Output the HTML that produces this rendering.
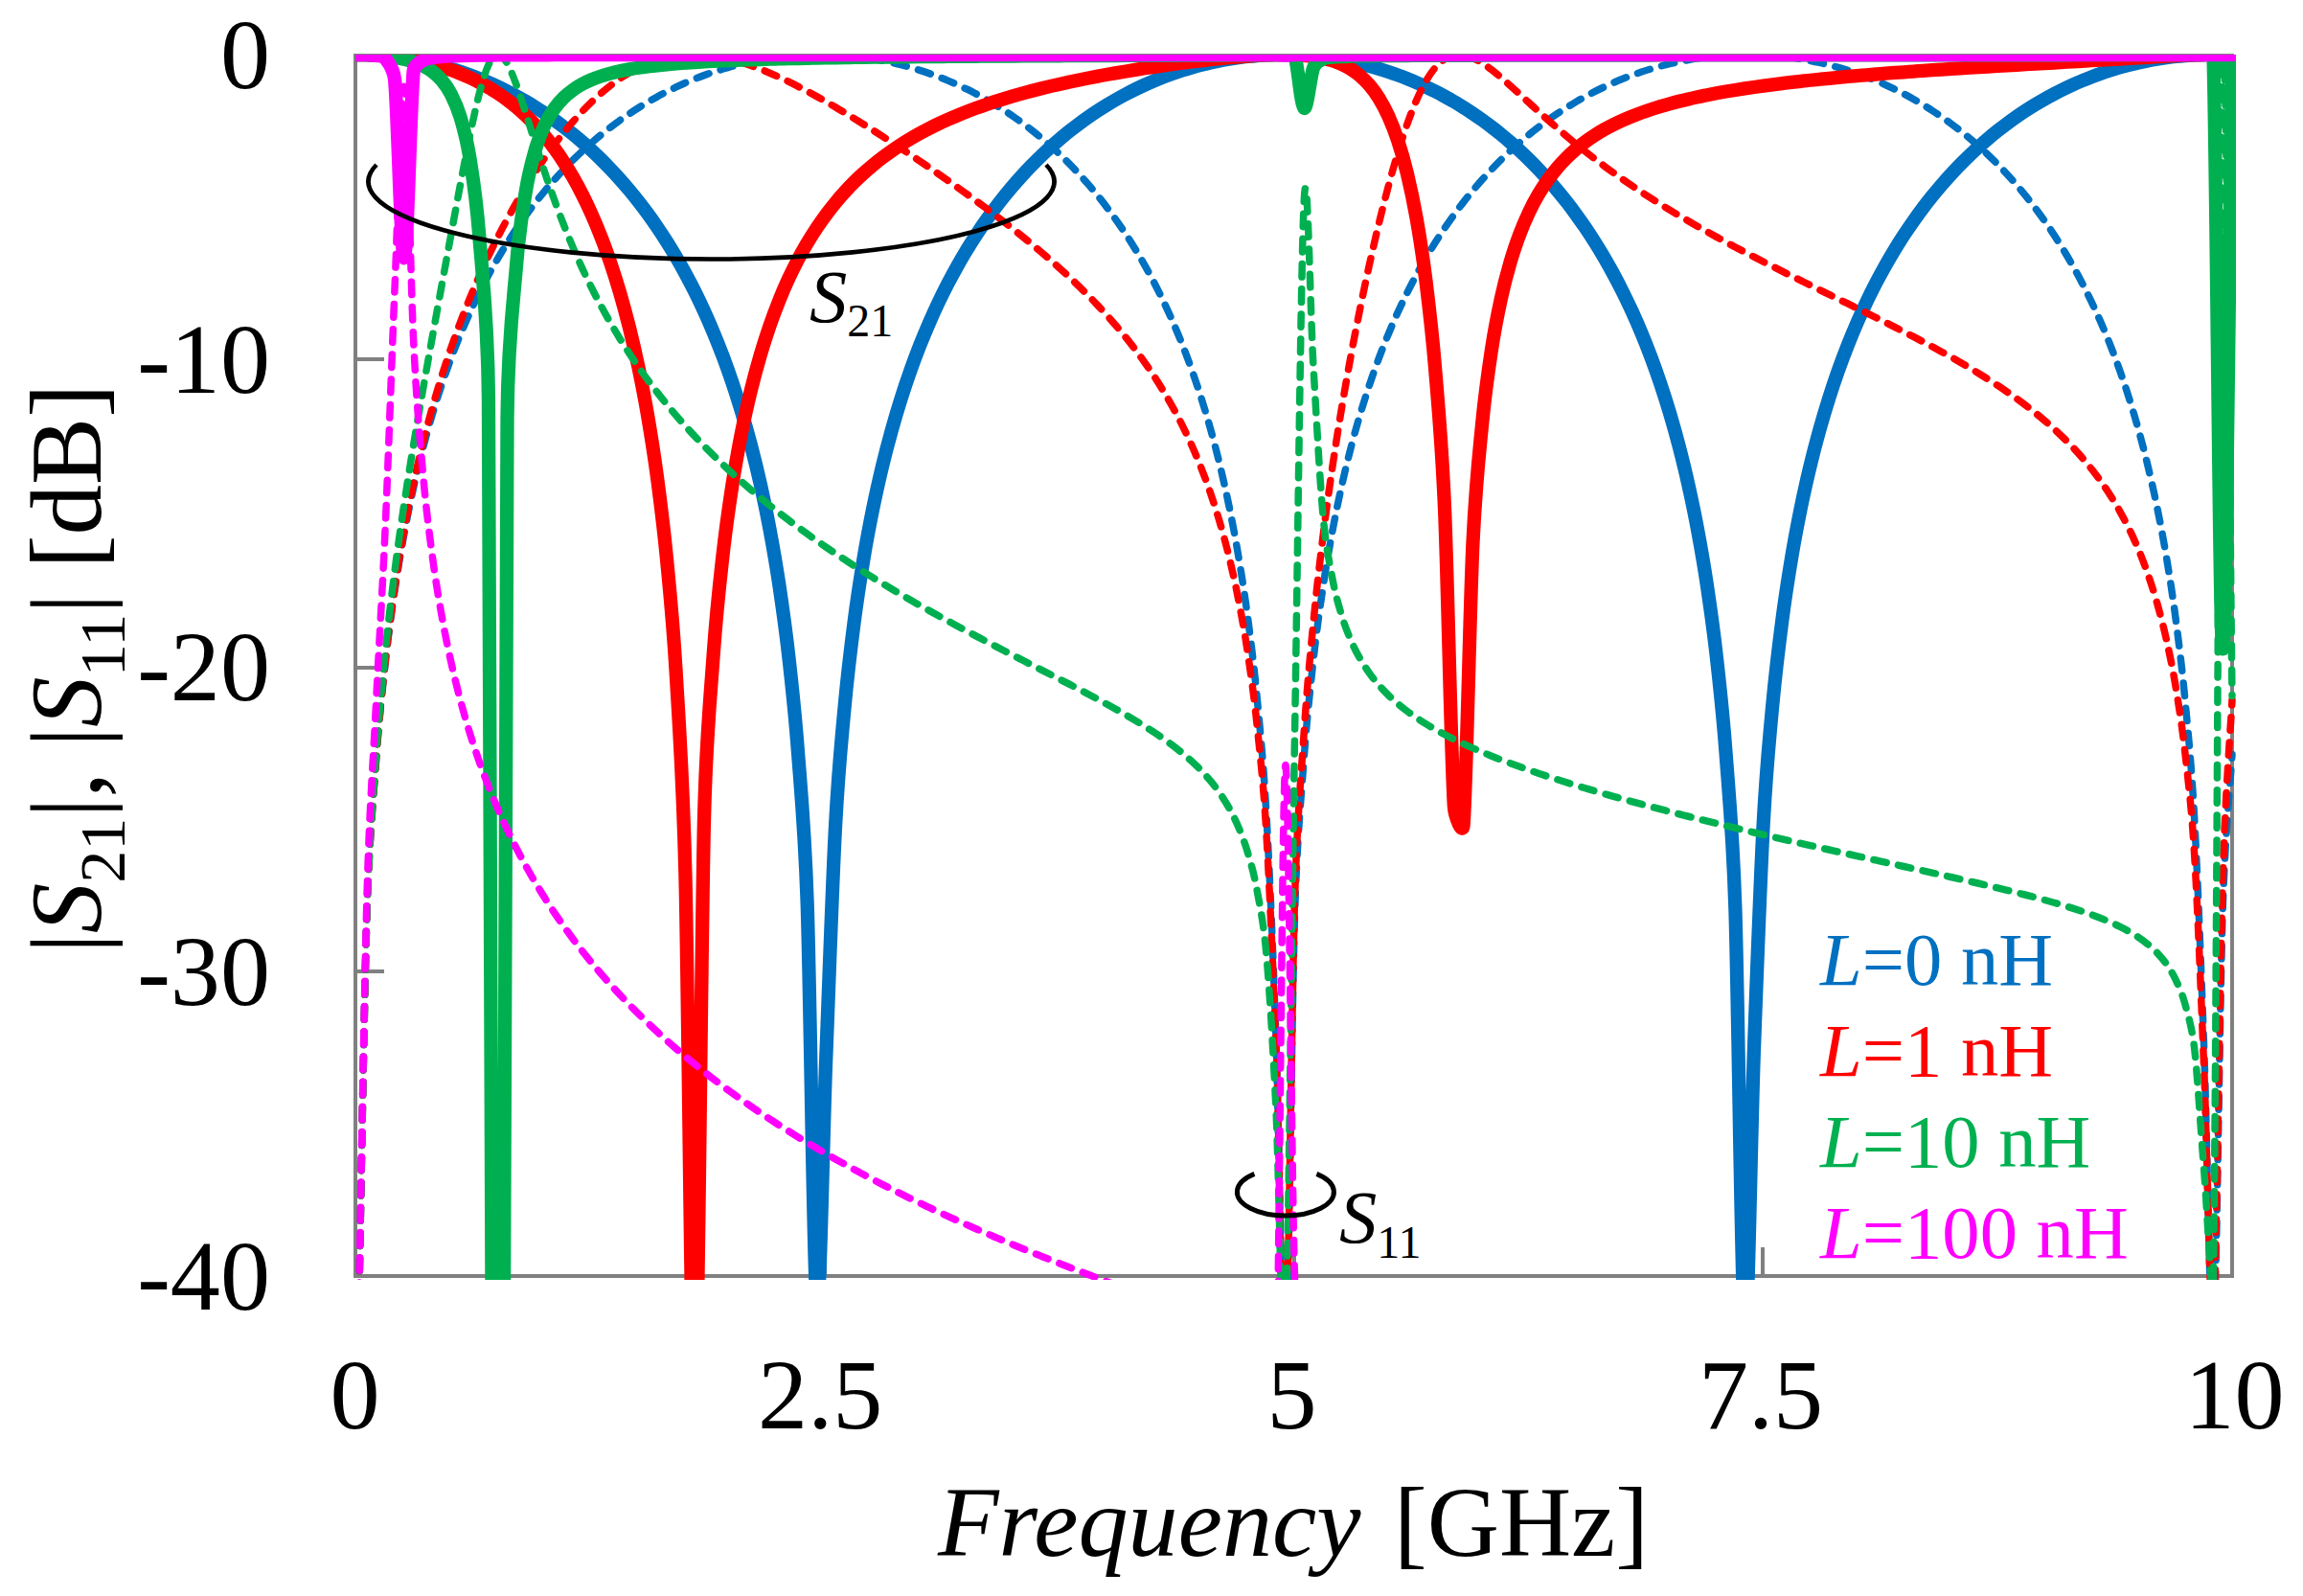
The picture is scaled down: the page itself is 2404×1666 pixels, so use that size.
<!DOCTYPE html>
<html><head><meta charset="utf-8"><title>S-parameters</title>
<style>
html,body{margin:0;padding:0;background:#fff}
svg{display:block}
text{font-family:"Liberation Serif",serif;fill:#000}
.i{font-style:italic}
</style></head><body>
<svg width="2404" height="1666" viewBox="0 0 2404 1666">
<rect width="2404" height="1666" fill="#fff"/>
<defs><clipPath id="c"><rect x="371" y="57" width="1963" height="1279"/></clipPath></defs>

<g fill="#808080" shape-rendering="crispEdges">
<rect x="369" y="56" width="4" height="1278"/>
<rect x="2328" y="56" width="4" height="1278"/>
<rect x="369" y="1330" width="1963" height="4"/>
<rect x="369" y="56" width="1963" height="1"/>
<rect x="373" y="373.4" width="28" height="4"/>
<rect x="373" y="694.8" width="28" height="4"/>
<rect x="373" y="1012.0" width="28" height="4"/>
<rect x="858.8" y="1302" width="4" height="28"/>
<rect x="1348.5" y="1302" width="4" height="28"/>
<rect x="1838.2" y="1302" width="4" height="28"/>
</g>
<g clip-path="url(#c)" fill="none" stroke-linejoin="round" stroke-linecap="round">
<path d="M372.96 57.01C374.59 57.04 379.48 57.09 382.74 57.20C386.01 57.31 389.27 57.47 392.53 57.68C395.79 57.88 399.05 58.13 402.31 58.43C405.58 58.73 408.84 59.07 412.10 59.47C415.36 59.86 418.62 60.30 421.89 60.79C425.15 61.28 428.41 61.81 431.67 62.40C434.93 62.98 438.19 63.61 441.46 64.29C444.72 64.98 447.98 65.71 451.24 66.49C454.50 67.27 457.76 68.10 461.03 68.98C464.29 69.86 467.55 70.79 470.81 71.77C474.07 72.76 477.33 73.79 480.60 74.88C483.86 75.97 487.12 77.11 490.38 78.30C493.64 79.50 496.90 80.74 500.17 82.05C503.43 83.35 506.69 84.71 509.95 86.13C513.21 87.55 516.48 89.02 519.74 90.56C523.00 92.09 526.26 93.69 529.52 95.34C532.78 97.00 536.05 98.71 539.31 100.49C542.57 102.27 545.83 104.12 549.09 106.03C552.35 107.94 555.62 109.91 558.88 111.96C562.14 114.00 565.40 116.11 568.66 118.30C571.92 120.49 575.19 122.75 578.45 125.08C581.71 127.42 584.97 129.83 588.23 132.32C591.50 134.81 594.76 137.38 598.02 140.04C601.28 142.69 604.54 145.43 607.80 148.26C611.07 151.09 614.33 154.01 617.59 157.03C620.85 160.05 624.11 163.15 627.37 166.37C630.64 169.58 633.90 172.89 637.16 176.32C640.42 179.75 643.68 183.28 646.94 186.94C650.21 190.60 653.47 194.37 656.73 198.27C659.99 202.18 663.25 206.20 666.52 210.38C669.78 214.55 673.04 218.86 676.30 223.33C679.56 227.80 682.82 232.41 686.09 237.21C689.35 242.01 692.61 246.95 695.87 252.11C699.13 257.27 702.39 262.60 705.66 268.17C708.92 273.73 712.18 279.48 715.44 285.50C718.70 291.52 721.96 297.75 725.23 304.29C728.49 310.84 731.75 317.61 735.01 324.76C738.27 331.90 741.54 339.31 744.80 347.15C748.06 355.00 751.32 363.15 754.58 371.83C757.84 380.51 761.11 389.54 764.37 399.23C767.63 408.91 770.89 419.02 774.15 429.95C777.41 440.88 780.68 452.31 783.94 464.83C787.20 477.35 790.46 490.46 793.72 505.07C796.98 519.68 800.25 534.99 803.51 552.50C806.77 570.00 810.03 588.30 813.29 610.10C816.55 631.91 819.82 654.40 823.08 683.30C826.34 712.20 829.60 740.28 832.86 783.49C836.13 826.70 839.94 862.92 842.65 942.56C845.91 1038.37 849.17 1331.20 852.43 1358.39C855.70 1385.57 858.96 1188.18 862.22 1105.66C865.48 1023.13 868.74 924.81 872.00 863.23C875.27 801.65 878.53 771.77 881.79 736.17C885.05 700.56 888.31 674.97 891.57 649.61C894.84 624.24 898.10 603.72 901.36 583.98C904.62 564.25 907.88 547.34 911.15 531.20C914.41 515.06 917.67 500.76 920.93 487.12C924.19 473.48 927.45 461.15 930.72 449.36C933.98 437.56 937.24 426.74 940.50 416.37C943.76 406.01 947.02 396.39 950.29 387.16C953.55 377.92 956.81 369.29 960.07 360.98C963.33 352.68 966.59 344.86 969.86 337.33C973.12 329.80 976.38 322.67 979.64 315.79C982.90 308.92 986.17 302.39 989.43 296.07C992.69 289.76 995.95 283.75 999.21 277.93C1002.47 272.11 1005.74 266.55 1009.00 261.16C1012.26 255.77 1015.52 250.61 1018.78 245.61C1022.04 240.61 1025.31 235.81 1028.57 231.16C1031.83 226.50 1035.09 222.03 1038.35 217.69C1041.61 213.34 1044.88 209.16 1048.14 205.11C1051.40 201.05 1054.66 197.14 1057.92 193.34C1061.19 189.54 1064.45 185.88 1067.71 182.32C1070.97 178.76 1074.23 175.33 1077.49 171.99C1080.76 168.66 1084.02 165.43 1087.28 162.30C1090.54 159.18 1093.80 156.15 1097.06 153.21C1100.33 150.28 1103.59 147.44 1106.85 144.68C1110.11 141.93 1113.37 139.26 1116.63 136.68C1119.90 134.09 1123.16 131.59 1126.42 129.17C1129.68 126.75 1132.94 124.40 1136.20 122.13C1139.47 119.86 1142.73 117.67 1145.99 115.54C1149.25 113.41 1152.51 111.36 1155.78 109.37C1159.04 107.39 1162.30 105.47 1165.56 103.61C1168.82 101.76 1172.08 99.97 1175.35 98.25C1178.61 96.52 1181.87 94.86 1185.13 93.25C1188.39 91.65 1191.65 90.11 1194.92 88.63C1198.18 87.14 1201.44 85.72 1204.70 84.35C1207.96 82.98 1211.22 81.67 1214.49 80.41C1217.75 79.15 1221.01 77.95 1224.27 76.80C1227.53 75.65 1230.80 74.56 1234.06 73.51C1237.32 72.47 1240.58 71.48 1243.84 70.54C1247.10 69.60 1250.37 68.71 1253.63 67.88C1256.89 67.04 1260.15 66.25 1263.41 65.51C1266.67 64.78 1269.94 64.09 1273.20 63.45C1276.46 62.81 1279.72 62.22 1282.98 61.67C1286.24 61.13 1289.51 60.64 1292.77 60.19C1296.03 59.74 1299.29 59.34 1302.55 58.99C1305.82 58.64 1309.08 58.33 1312.34 58.07C1315.60 57.82 1318.86 57.60 1322.12 57.44C1325.39 57.27 1328.65 57.16 1331.91 57.08C1335.17 57.01 1338.43 56.99 1341.69 57.01C1344.96 57.03 1348.22 57.10 1351.48 57.21C1354.74 57.32 1358.00 57.48 1361.26 57.69C1364.53 57.90 1367.79 58.15 1371.05 58.45C1374.31 58.76 1377.57 59.10 1380.84 59.50C1384.10 59.90 1387.36 60.34 1390.62 60.83C1393.88 61.32 1397.14 61.86 1400.41 62.44C1403.67 63.03 1406.93 63.67 1410.19 64.35C1413.45 65.03 1416.71 65.77 1419.98 66.55C1423.24 67.33 1426.50 68.16 1429.76 69.05C1433.02 69.93 1436.28 70.87 1439.55 71.85C1442.81 72.84 1446.07 73.87 1449.33 74.97C1452.59 76.06 1455.86 77.20 1459.12 78.40C1462.38 79.60 1465.64 80.85 1468.90 82.15C1472.16 83.46 1475.43 84.82 1478.69 86.25C1481.95 87.67 1485.21 89.14 1488.47 90.68C1491.73 92.22 1495.00 93.82 1498.26 95.48C1501.52 97.13 1504.78 98.85 1508.04 100.64C1511.30 102.42 1514.57 104.27 1517.83 106.18C1521.09 108.09 1524.35 110.07 1527.61 112.12C1530.87 114.17 1534.14 116.29 1537.40 118.48C1540.66 120.67 1543.92 122.93 1547.18 125.27C1550.45 127.61 1553.71 130.02 1556.97 132.52C1560.23 135.02 1563.49 137.59 1566.75 140.25C1570.02 142.91 1573.28 145.65 1576.54 148.49C1579.80 151.33 1583.06 154.25 1586.32 157.27C1589.59 160.29 1592.85 163.40 1596.11 166.63C1599.37 169.85 1602.63 173.16 1605.89 176.60C1609.16 180.03 1612.42 183.57 1615.68 187.23C1618.94 190.90 1622.20 194.67 1625.47 198.58C1628.73 202.50 1631.99 206.53 1635.25 210.71C1638.51 214.90 1641.77 219.21 1645.04 223.69C1648.30 228.17 1651.56 232.79 1654.82 237.59C1658.08 242.40 1661.34 247.36 1664.61 252.53C1667.87 257.70 1671.13 263.04 1674.39 268.61C1677.65 274.19 1680.91 279.95 1684.18 285.98C1687.44 292.02 1690.70 298.26 1693.96 304.82C1697.22 311.38 1700.49 318.17 1703.75 325.33C1707.01 332.49 1710.27 339.92 1713.53 347.78C1716.79 355.65 1720.06 363.82 1723.32 372.52C1726.58 381.23 1729.84 390.29 1733.10 400.00C1736.36 409.72 1739.63 419.86 1742.89 430.83C1746.15 441.80 1749.41 453.26 1752.67 465.83C1755.93 478.40 1759.20 491.56 1762.46 506.23C1765.72 520.91 1768.98 536.29 1772.24 553.89C1775.51 571.49 1778.77 589.88 1782.03 611.83C1785.29 633.77 1788.55 656.41 1791.81 685.56C1795.08 714.71 1798.34 742.95 1801.60 786.75C1804.86 830.55 1808.74 867.46 1811.38 948.38C1814.65 1048.18 1817.91 1361.06 1821.17 1385.57C1824.43 1410.09 1827.69 1183.23 1830.95 1095.46C1834.22 1007.69 1837.48 919.27 1840.74 858.94C1844.00 798.61 1847.26 768.67 1850.52 733.45C1853.79 698.24 1857.05 672.80 1860.31 647.63C1863.57 622.45 1866.83 602.04 1870.10 582.42C1873.36 562.81 1876.62 545.98 1879.88 529.92C1883.14 513.85 1886.40 499.62 1889.67 486.04C1892.93 472.45 1896.19 460.16 1899.45 448.41C1902.71 436.67 1905.97 425.88 1909.24 415.54C1912.50 405.21 1915.76 395.62 1919.02 386.42C1922.28 377.21 1925.54 368.60 1928.81 360.32C1932.07 352.04 1935.33 344.24 1938.59 336.73C1941.85 329.21 1945.12 322.10 1948.38 315.24C1951.64 308.38 1954.90 301.87 1958.16 295.57C1961.42 289.27 1964.69 283.27 1967.95 277.46C1971.21 271.65 1974.47 266.10 1977.73 260.73C1980.99 255.35 1984.26 250.20 1987.52 245.21C1990.78 240.22 1994.04 235.43 1997.30 230.79C2000.56 226.14 2003.83 221.67 2007.09 217.34C2010.35 213.00 2013.61 208.83 2016.87 204.78C2020.14 200.73 2023.40 196.83 2026.66 193.04C2029.92 189.24 2033.18 185.59 2036.44 182.04C2039.71 178.48 2042.97 175.06 2046.23 171.72C2049.49 168.39 2052.75 165.18 2056.01 162.05C2059.28 158.93 2062.54 155.91 2065.80 152.98C2069.06 150.05 2072.32 147.21 2075.58 144.46C2078.85 141.71 2082.11 139.05 2085.37 136.47C2088.63 133.89 2091.89 131.40 2095.16 128.98C2098.42 126.55 2101.68 124.22 2104.94 121.95C2108.20 119.68 2111.46 117.49 2114.73 115.37C2117.99 113.25 2121.25 111.20 2124.51 109.21C2127.77 107.23 2131.03 105.32 2134.30 103.47C2137.56 101.61 2140.82 99.83 2144.08 98.11C2147.34 96.38 2150.60 94.73 2153.87 93.13C2157.13 91.53 2160.39 89.99 2163.65 88.51C2166.91 87.02 2170.17 85.60 2173.44 84.24C2176.70 82.87 2179.96 81.56 2183.22 80.31C2186.48 79.05 2189.75 77.85 2193.01 76.71C2196.27 75.56 2199.53 74.47 2202.79 73.43C2206.05 72.39 2209.32 71.40 2212.58 70.47C2215.84 69.53 2219.10 68.64 2222.36 67.81C2225.62 66.97 2228.89 66.19 2232.15 65.45C2235.41 64.72 2238.67 64.03 2241.93 63.40C2245.19 62.76 2248.46 62.17 2251.72 61.63C2254.98 61.09 2258.24 60.60 2261.50 60.15C2264.77 59.71 2268.03 59.31 2271.29 58.96C2274.55 58.61 2277.81 58.31 2281.07 58.05C2284.34 57.80 2287.60 57.59 2290.86 57.43C2294.12 57.26 2297.38 57.15 2300.64 57.08C2303.91 57.01 2307.17 56.99 2310.43 57.01C2313.69 57.03 2316.95 57.10 2320.21 57.22C2323.48 57.34 2328.37 57.63 2330.00 57.71" stroke="#0070C0" stroke-width="14.3"/>
<path d="M372.96 1457.53C374.59 1374.90 379.48 1072.32 382.74 961.75C385.22 877.83 389.27 839.30 392.53 794.11C395.79 748.93 399.05 720.37 402.31 690.64C405.58 660.90 408.84 637.97 412.10 615.70C415.36 593.42 418.62 574.81 421.89 557.01C425.15 539.20 428.41 523.66 431.67 508.84C434.93 494.02 438.19 480.74 441.46 468.07C444.72 455.39 447.98 443.84 451.24 432.78C454.50 421.72 457.76 411.52 461.03 401.74C464.29 391.95 467.55 382.83 470.81 374.08C474.07 365.32 477.33 357.10 480.60 349.18C483.86 341.27 487.12 333.80 490.38 326.61C493.64 319.41 496.90 312.58 500.17 305.99C503.43 299.40 506.69 293.12 509.95 287.06C513.21 281.00 516.48 275.21 519.74 269.61C523.00 264.01 526.26 258.64 529.52 253.45C532.78 248.26 536.05 243.28 539.31 238.45C542.57 233.62 545.83 228.98 549.09 224.49C552.35 219.99 555.62 215.66 558.88 211.46C562.14 207.26 565.40 203.21 568.66 199.28C571.92 195.35 575.19 191.57 578.45 187.89C581.71 184.21 584.97 180.66 588.23 177.21C591.50 173.76 594.76 170.44 598.02 167.20C601.28 163.97 604.54 160.84 607.80 157.81C611.07 154.78 614.33 151.84 617.59 149.00C620.85 146.15 624.11 143.40 627.37 140.72C630.64 138.05 633.90 135.47 637.16 132.96C640.42 130.46 643.68 128.04 646.94 125.69C650.21 123.34 653.47 121.07 656.73 118.87C659.99 116.67 663.25 114.54 666.52 112.49C669.78 110.43 673.04 108.44 676.30 106.52C679.56 104.60 682.82 102.75 686.09 100.95C689.35 99.16 692.61 97.44 695.87 95.77C699.13 94.11 702.39 92.50 705.66 90.96C708.92 89.41 712.18 87.93 715.44 86.50C718.70 85.07 721.96 83.70 725.23 82.39C728.49 81.07 731.75 79.82 735.01 78.61C738.27 77.41 741.54 76.26 744.80 75.16C748.06 74.06 751.32 73.02 754.58 72.03C757.84 71.04 761.11 70.10 764.37 69.21C767.63 68.32 770.89 67.48 774.15 66.69C777.41 65.90 780.68 65.16 783.94 64.47C787.20 63.78 790.46 63.14 793.72 62.55C796.98 61.96 800.25 61.41 803.51 60.92C806.77 60.42 810.03 59.97 813.29 59.57C816.55 59.17 819.82 58.82 823.08 58.51C826.34 58.20 829.60 57.94 832.86 57.73C836.13 57.52 839.39 57.35 842.65 57.23C845.91 57.11 849.17 57.04 852.43 57.01C855.70 56.98 858.96 57.00 862.22 57.07C865.48 57.14 868.74 57.25 872.00 57.41C875.27 57.57 878.53 57.78 881.79 58.03C885.05 58.28 888.31 58.58 891.57 58.93C894.84 59.27 898.10 59.67 901.36 60.11C904.62 60.55 907.88 61.04 911.15 61.58C914.41 62.12 917.67 62.70 920.93 63.33C924.19 63.97 927.45 64.65 930.72 65.38C933.98 66.12 937.24 66.90 940.50 67.73C943.76 68.56 947.02 69.44 950.29 70.37C953.55 71.31 956.81 72.29 960.07 73.33C963.33 74.36 966.59 75.45 969.86 76.60C973.12 77.74 976.38 78.93 979.64 80.18C982.90 81.44 986.17 82.74 989.43 84.10C992.69 85.47 995.95 86.88 999.21 88.36C1002.47 89.84 1005.74 91.37 1009.00 92.97C1012.26 94.57 1015.52 96.22 1018.78 97.94C1022.04 99.66 1025.31 101.44 1028.57 103.28C1031.83 105.13 1035.09 107.04 1038.35 109.02C1041.61 111.00 1044.88 113.04 1048.14 115.16C1051.40 117.28 1054.66 119.46 1057.92 121.73C1061.19 123.99 1064.45 126.32 1067.71 128.74C1070.97 131.15 1074.23 133.64 1077.49 136.22C1080.76 138.79 1084.02 141.45 1087.28 144.19C1090.54 146.94 1093.80 149.77 1097.06 152.69C1100.33 155.62 1103.59 158.63 1106.85 161.75C1110.11 164.87 1113.37 168.08 1116.63 171.40C1119.90 174.72 1123.16 178.14 1126.42 181.69C1129.68 185.23 1132.94 188.88 1136.20 192.66C1139.47 196.45 1142.73 200.34 1145.99 204.38C1149.25 208.43 1152.51 212.59 1155.78 216.91C1159.04 221.24 1162.30 225.70 1165.56 230.33C1168.82 234.97 1172.08 239.75 1175.35 244.73C1178.61 249.70 1181.87 254.84 1185.13 260.20C1188.39 265.57 1191.65 271.10 1194.92 276.89C1198.18 282.69 1201.44 288.67 1204.70 294.95C1207.96 301.23 1211.22 307.73 1214.49 314.57C1217.75 321.41 1221.01 328.50 1224.27 335.99C1227.53 343.48 1230.80 351.26 1234.06 359.51C1237.32 367.77 1240.58 376.35 1243.84 385.52C1247.10 394.69 1250.37 404.25 1253.63 414.54C1256.89 424.83 1260.15 435.58 1263.41 447.27C1266.67 458.97 1269.94 471.21 1273.20 484.72C1276.46 498.24 1279.72 512.40 1282.98 528.37C1286.24 544.34 1289.51 561.06 1292.77 580.54C1296.03 600.02 1299.29 620.29 1302.55 645.23C1305.82 670.17 1309.08 695.42 1312.34 730.19C1315.60 764.95 1318.86 794.91 1322.12 853.80C1325.39 912.69 1328.65 988.69 1331.91 1083.52C1335.17 1178.34 1338.43 1444.07 1341.69 1422.76C1344.96 1401.45 1348.22 1060.98 1351.48 955.64C1354.04 873.10 1358.00 835.32 1361.26 790.77C1364.53 746.22 1367.79 717.81 1371.05 688.34C1374.31 658.86 1377.57 636.07 1380.84 613.95C1384.10 591.82 1387.36 573.31 1390.62 555.60C1393.88 537.88 1397.14 522.42 1400.41 507.66C1403.67 492.91 1406.93 479.68 1410.19 467.06C1413.45 454.43 1416.71 442.91 1419.98 431.90C1423.24 420.88 1426.50 410.71 1429.76 400.95C1433.02 391.20 1436.28 382.11 1439.55 373.38C1442.81 364.64 1446.07 356.44 1449.33 348.55C1452.59 340.66 1455.86 333.21 1459.12 326.03C1462.38 318.85 1465.64 312.04 1468.90 305.46C1472.16 298.88 1475.43 292.63 1478.69 286.58C1481.95 280.52 1485.21 274.75 1488.47 269.16C1491.73 263.57 1495.00 258.22 1498.26 253.03C1501.52 247.85 1504.78 242.88 1508.04 238.06C1511.30 233.25 1514.57 228.62 1517.83 224.13C1521.09 219.64 1524.35 215.31 1527.61 211.12C1530.87 206.93 1534.14 202.89 1537.40 198.97C1540.66 195.05 1543.92 191.27 1547.18 187.59C1550.45 183.92 1553.71 180.38 1556.97 176.94C1560.23 173.49 1563.49 170.17 1566.75 166.94C1570.02 163.71 1573.28 160.60 1576.54 157.57C1579.80 154.54 1583.06 151.61 1586.32 148.77C1589.59 145.92 1592.85 143.18 1596.11 140.51C1599.37 137.84 1602.63 135.27 1605.89 132.76C1609.16 130.26 1612.42 127.84 1615.68 125.50C1618.94 123.15 1622.20 120.89 1625.47 118.69C1628.73 116.50 1631.99 114.38 1635.25 112.32C1638.51 110.27 1641.77 108.29 1645.04 106.37C1648.30 104.45 1651.56 102.60 1654.82 100.81C1658.08 99.02 1661.34 97.30 1664.61 95.64C1667.87 93.97 1671.13 92.38 1674.39 90.83C1677.65 89.29 1680.91 87.81 1684.18 86.39C1687.44 84.96 1690.70 83.59 1693.96 82.28C1697.22 80.97 1700.49 79.72 1703.75 78.51C1707.01 77.31 1710.27 76.17 1713.53 75.07C1716.79 73.98 1720.06 72.94 1723.32 71.95C1726.58 70.96 1729.84 70.02 1733.10 69.13C1736.36 68.25 1739.63 67.41 1742.89 66.63C1746.15 65.84 1749.41 65.10 1752.67 64.42C1755.93 63.73 1759.20 63.09 1762.46 62.50C1765.72 61.91 1768.98 61.37 1772.24 60.88C1775.51 60.38 1778.77 59.94 1782.03 59.54C1785.29 59.14 1788.55 58.79 1791.81 58.48C1795.08 58.18 1798.34 57.92 1801.60 57.71C1804.86 57.50 1808.12 57.34 1811.38 57.22C1814.65 57.10 1817.91 57.03 1821.17 57.01C1824.43 56.99 1827.69 57.01 1830.95 57.08C1834.22 57.15 1837.48 57.26 1840.74 57.42C1844.00 57.58 1847.26 57.79 1850.52 58.05C1853.79 58.30 1857.05 58.61 1860.31 58.96C1863.57 59.31 1866.83 59.70 1870.10 60.15C1873.36 60.59 1876.62 61.08 1879.88 61.62C1883.14 62.16 1886.40 62.75 1889.67 63.39C1892.93 64.02 1896.19 64.71 1899.45 65.44C1902.71 66.18 1905.97 66.96 1909.24 67.79C1912.50 68.63 1915.76 69.51 1919.02 70.45C1922.28 71.39 1925.54 72.37 1928.81 73.41C1932.07 74.45 1935.33 75.54 1938.59 76.69C1941.85 77.83 1945.12 79.03 1948.38 80.28C1951.64 81.54 1954.90 82.85 1958.16 84.21C1961.42 85.58 1964.69 87.00 1967.95 88.48C1971.21 89.96 1974.47 91.50 1977.73 93.10C1980.99 94.70 1984.26 96.36 1987.52 98.08C1990.78 99.80 1994.04 101.58 1997.30 103.43C2000.56 105.28 2003.83 107.20 2007.09 109.18C2010.35 111.16 2013.61 113.21 2016.87 115.33C2020.14 117.45 2023.40 119.64 2026.66 121.91C2029.92 124.18 2033.18 126.51 2036.44 128.93C2039.71 131.35 2042.97 133.85 2046.23 136.43C2049.49 139.01 2052.75 141.66 2056.01 144.41C2059.28 147.16 2062.54 150.00 2065.80 152.93C2069.06 155.86 2072.32 158.88 2075.58 162.00C2078.85 165.12 2082.11 168.34 2085.37 171.67C2088.63 175.00 2091.89 178.42 2095.16 181.97C2098.42 185.52 2101.68 189.18 2104.94 192.97C2108.20 196.76 2111.46 200.66 2114.73 204.71C2117.99 208.76 2121.25 212.93 2124.51 217.26C2127.77 221.59 2131.03 226.06 2134.30 230.70C2137.56 235.35 2140.82 240.14 2144.08 245.13C2147.34 250.11 2150.60 255.26 2153.87 260.63C2157.13 266.01 2160.39 271.56 2163.65 277.36C2166.91 283.16 2170.17 289.17 2173.44 295.46C2176.70 301.75 2179.96 308.27 2183.22 315.12C2186.48 321.98 2189.75 329.09 2193.01 336.59C2196.27 344.10 2199.53 351.90 2202.79 360.17C2206.05 368.45 2209.32 377.06 2212.58 386.26C2215.84 395.46 2219.10 405.04 2222.36 415.36C2225.62 425.69 2228.89 436.47 2232.15 448.21C2235.41 459.95 2238.67 472.23 2241.93 485.80C2245.19 499.37 2248.46 513.59 2251.72 529.64C2254.98 545.69 2258.24 562.49 2261.50 582.09C2264.77 601.68 2268.03 622.07 2271.29 647.20C2274.55 672.33 2277.81 697.73 2281.07 732.87C2284.34 768.00 2287.60 797.94 2290.86 858.01C2294.12 918.08 2297.38 1004.30 2300.64 1093.28C2303.91 1182.26 2307.17 1415.81 2310.43 1391.88C2313.69 1367.94 2316.95 1050.40 2320.21 949.67C2322.84 868.46 2328.37 814.50 2330.00 787.47" stroke="#0070C0" stroke-width="7.5" stroke-dasharray="13.5 12.7"/>
<path d="M372.96 57.01C374.59 57.04 379.48 57.09 382.74 57.20C386.01 57.31 389.27 57.47 392.53 57.68C395.79 57.89 399.05 58.14 402.31 58.44C405.58 58.75 408.84 59.10 412.10 59.50C415.36 59.91 418.62 60.36 421.89 60.87C425.15 61.38 428.41 61.94 431.67 62.57C434.93 63.19 438.19 63.86 441.46 64.60C444.72 65.34 447.98 66.14 451.24 67.01C454.50 67.88 457.76 68.81 461.03 69.82C464.29 70.82 467.55 71.90 470.81 73.06C474.07 74.21 477.33 75.44 480.60 76.77C483.86 78.09 487.12 79.49 490.38 81.00C493.64 82.50 496.90 84.09 500.17 85.80C503.43 87.51 506.69 89.31 509.95 91.24C513.21 93.17 516.48 95.20 519.74 97.38C523.00 99.56 526.26 101.85 529.52 104.31C532.78 106.77 536.05 109.35 539.31 112.12C542.57 114.89 545.83 117.80 549.09 120.92C552.35 124.04 555.62 127.32 558.88 130.83C562.14 134.34 565.40 138.04 568.66 142.00C571.92 145.96 575.19 150.12 578.45 154.58C581.71 159.04 584.97 163.74 588.23 168.78C591.50 173.82 594.76 179.12 598.02 184.82C601.28 190.52 604.54 196.51 607.80 202.98C611.07 209.44 614.33 216.24 617.59 223.58C620.85 230.93 624.11 238.67 627.37 247.06C630.64 255.45 633.90 264.30 637.16 273.94C640.42 283.59 643.68 293.76 646.94 304.94C650.21 316.12 653.47 327.92 656.73 341.04C659.99 354.16 663.25 367.99 666.52 383.66C669.78 399.33 673.04 415.83 676.30 435.03C679.56 454.24 682.82 474.34 686.09 498.89C689.35 523.45 692.61 548.53 695.87 582.37C699.13 616.21 702.39 646.70 705.66 701.92C708.92 757.14 712.77 807.72 715.44 913.68C718.70 1043.10 721.96 1488.18 725.23 1478.43C728.49 1468.68 731.75 987.95 735.01 855.19C737.14 768.42 741.54 727.91 744.80 681.86C748.06 635.82 751.32 608.17 754.58 578.94C757.84 549.71 761.11 527.78 764.37 506.49C767.63 485.21 770.89 467.81 774.15 451.24C777.41 434.67 780.68 420.51 783.94 407.08C787.20 393.65 790.46 381.86 793.72 370.68C796.98 359.51 800.25 349.51 803.51 340.03C806.77 330.55 810.03 321.96 813.29 313.81C816.55 305.65 819.82 298.18 823.08 291.08C826.34 283.98 829.60 277.44 832.86 271.20C836.13 264.96 839.39 259.18 842.65 253.66C845.91 248.14 849.17 243.00 852.43 238.08C855.70 233.17 858.96 228.57 862.22 224.17C865.48 219.76 868.74 215.63 872.00 211.67C875.27 207.70 878.53 203.97 881.79 200.39C885.05 196.81 888.31 193.42 891.57 190.17C894.84 186.92 898.10 183.84 901.36 180.88C904.62 177.92 907.88 175.11 911.15 172.40C914.41 169.70 917.67 167.12 920.93 164.64C924.19 162.16 927.45 159.80 930.72 157.52C933.98 155.24 937.24 153.06 940.50 150.96C943.76 148.85 947.02 146.84 950.29 144.90C953.55 142.95 956.81 141.09 960.07 139.29C963.33 137.49 966.59 135.76 969.86 134.09C973.12 132.42 976.38 130.81 979.64 129.25C982.90 127.69 986.17 126.20 989.43 124.74C992.69 123.29 995.95 121.89 999.21 120.53C1002.47 119.17 1005.74 117.86 1009.00 116.59C1012.26 115.31 1015.52 114.09 1018.78 112.89C1022.04 111.70 1025.31 110.54 1028.57 109.42C1031.83 108.29 1035.09 107.20 1038.35 106.15C1041.61 105.09 1044.88 104.06 1048.14 103.06C1051.40 102.06 1054.66 101.09 1057.92 100.14C1061.19 99.20 1064.45 98.28 1067.71 97.39C1070.97 96.49 1074.23 95.62 1077.49 94.77C1080.76 93.92 1084.02 93.09 1087.28 92.28C1090.54 91.48 1093.80 90.69 1097.06 89.92C1100.33 89.15 1103.59 88.40 1106.85 87.67C1110.11 86.94 1113.37 86.22 1116.63 85.52C1119.90 84.82 1123.16 84.14 1126.42 83.47C1129.68 82.80 1132.94 82.15 1136.20 81.51C1139.47 80.87 1142.73 80.24 1145.99 79.63C1149.25 79.01 1152.51 78.41 1155.78 77.82C1159.04 77.23 1162.30 76.66 1165.56 76.09C1168.82 75.53 1172.08 74.97 1175.35 74.43C1178.61 73.89 1181.87 73.35 1185.13 72.83C1188.39 72.31 1191.65 71.80 1194.92 71.30C1198.18 70.79 1201.44 70.30 1204.70 69.82C1207.96 69.34 1211.22 68.86 1214.49 68.40C1217.75 67.94 1221.01 67.48 1224.27 67.04C1227.53 66.59 1230.80 66.16 1234.06 65.73C1237.32 65.31 1240.58 64.89 1243.84 64.49C1247.10 64.08 1250.37 63.69 1253.63 63.30C1256.89 62.92 1260.15 62.55 1263.41 62.18C1266.67 61.82 1269.94 61.47 1273.20 61.14C1276.46 60.80 1279.72 60.48 1282.98 60.17C1286.24 59.86 1289.51 59.57 1292.77 59.29C1296.03 59.02 1299.29 58.76 1302.55 58.52C1305.82 58.28 1309.08 58.06 1312.34 57.87C1315.60 57.68 1318.86 57.51 1322.12 57.38C1325.39 57.25 1328.65 57.14 1331.91 57.08C1335.17 57.01 1338.43 56.98 1341.69 57.01C1344.96 57.03 1348.22 57.10 1351.48 57.24C1354.74 57.37 1358.00 57.56 1361.26 57.84C1364.53 58.13 1367.79 58.47 1371.05 58.94C1374.31 59.41 1377.57 59.95 1380.84 60.67C1384.10 61.39 1387.36 62.20 1390.62 63.25C1393.88 64.29 1397.14 65.46 1400.41 66.93C1403.67 68.41 1406.93 70.05 1410.19 72.11C1413.45 74.17 1416.71 76.44 1419.98 79.29C1423.24 82.13 1426.50 85.27 1429.76 89.18C1433.02 93.08 1436.28 97.38 1439.55 102.73C1442.81 108.08 1446.07 113.97 1449.33 121.28C1452.59 128.59 1455.86 136.62 1459.12 146.59C1462.38 156.56 1465.64 167.50 1468.90 181.11C1472.16 194.73 1475.43 209.56 1478.69 228.28C1481.95 247.01 1485.21 267.09 1488.47 293.45C1491.73 319.81 1495.00 346.73 1498.26 386.44C1501.52 426.15 1504.91 458.97 1508.04 531.70C1511.30 607.51 1514.57 786.35 1517.83 841.31C1518.49 852.47 1526.81 872.58 1527.61 861.43C1530.87 815.92 1534.14 638.20 1537.40 568.26C1540.35 504.92 1543.92 475.70 1547.18 441.81C1550.45 407.93 1553.71 386.55 1556.97 364.96C1560.23 343.37 1563.49 327.47 1566.75 312.27C1570.02 297.07 1573.28 285.07 1576.54 273.77C1579.80 262.46 1583.06 253.16 1586.32 244.44C1589.59 235.72 1592.85 228.35 1596.11 221.43C1599.37 214.52 1602.63 208.56 1605.89 202.96C1609.16 197.37 1612.42 192.47 1615.68 187.86C1618.94 183.25 1622.20 179.16 1625.47 175.31C1628.73 171.45 1631.99 168.00 1635.25 164.74C1638.51 161.47 1641.77 158.52 1645.04 155.73C1648.30 152.94 1651.56 150.39 1654.82 147.98C1658.08 145.56 1661.34 143.34 1664.61 141.24C1667.87 139.13 1671.13 137.18 1674.39 135.33C1677.65 133.48 1680.91 131.76 1684.18 130.12C1687.44 128.47 1690.70 126.94 1693.96 125.48C1697.22 124.02 1700.49 122.65 1703.75 121.33C1707.01 120.02 1710.27 118.79 1713.53 117.60C1716.79 116.42 1720.06 115.30 1723.32 114.23C1726.58 113.15 1729.84 112.14 1733.10 111.16C1736.36 110.18 1739.63 109.25 1742.89 108.36C1746.15 107.47 1749.41 106.61 1752.67 105.79C1755.93 104.97 1759.20 104.19 1762.46 103.43C1765.72 102.67 1768.98 101.95 1772.24 101.25C1775.51 100.54 1778.77 99.87 1782.03 99.22C1785.29 98.57 1788.55 97.94 1791.81 97.34C1795.08 96.73 1798.34 96.15 1801.60 95.58C1804.86 95.02 1808.12 94.47 1811.38 93.94C1814.65 93.41 1817.91 92.90 1821.17 92.40C1824.43 91.90 1827.69 91.42 1830.95 90.95C1834.22 90.48 1837.48 90.02 1840.74 89.58C1844.00 89.14 1847.26 88.71 1850.52 88.29C1853.79 87.87 1857.05 87.46 1860.31 87.07C1863.57 86.67 1866.83 86.28 1870.10 85.91C1873.36 85.53 1876.62 85.16 1879.88 84.80C1883.14 84.44 1886.40 84.09 1889.67 83.75C1892.93 83.40 1896.19 83.07 1899.45 82.74C1902.71 82.41 1905.97 82.09 1909.24 81.78C1912.50 81.47 1915.76 81.16 1919.02 80.86C1922.28 80.56 1925.54 80.26 1928.81 79.97C1932.07 79.68 1935.33 79.40 1938.59 79.12C1941.85 78.84 1945.12 78.57 1948.38 78.30C1951.64 78.03 1954.90 77.76 1958.16 77.50C1961.42 77.24 1964.69 76.99 1967.95 76.74C1971.21 76.49 1974.47 76.24 1977.73 75.99C1980.99 75.75 1984.26 75.51 1987.52 75.27C1990.78 75.04 1994.04 74.80 1997.30 74.57C2000.56 74.34 2003.83 74.11 2007.09 73.89C2010.35 73.66 2013.61 73.44 2016.87 73.22C2020.14 73.00 2023.40 72.79 2026.66 72.57C2029.92 72.36 2033.18 72.15 2036.44 71.93C2039.71 71.72 2042.97 71.52 2046.23 71.31C2049.49 71.10 2052.75 70.90 2056.01 70.70C2059.28 70.49 2062.54 70.29 2065.80 70.09C2069.06 69.89 2072.32 69.70 2075.58 69.50C2078.85 69.30 2082.11 69.11 2085.37 68.91C2088.63 68.72 2091.89 68.52 2095.16 68.33C2098.42 68.14 2101.68 67.95 2104.94 67.76C2108.20 67.57 2111.46 67.37 2114.73 67.18C2117.99 67.00 2121.25 66.81 2124.51 66.62C2127.77 66.43 2131.03 66.24 2134.30 66.05C2137.56 65.86 2140.82 65.67 2144.08 65.49C2147.34 65.30 2150.60 65.11 2153.87 64.92C2157.13 64.73 2160.39 64.55 2163.65 64.36C2166.91 64.17 2170.17 63.98 2173.44 63.79C2176.70 63.60 2179.96 63.41 2183.22 63.22C2186.48 63.04 2189.75 62.85 2193.01 62.65C2196.27 62.46 2199.53 62.27 2202.79 62.08C2206.05 61.89 2209.32 61.70 2212.58 61.51C2215.84 61.32 2219.10 61.13 2222.36 60.93C2225.62 60.74 2228.89 60.55 2232.15 60.36C2235.41 60.17 2238.67 59.98 2241.93 59.79C2245.19 59.60 2248.46 59.41 2251.72 59.23C2254.98 59.05 2258.24 58.86 2261.50 58.69C2264.77 58.51 2268.03 58.34 2271.29 58.17C2274.55 58.01 2277.81 57.85 2281.07 57.71C2284.34 57.57 2287.60 57.43 2290.86 57.32C2294.12 57.22 2297.38 57.12 2300.64 57.07C2303.91 57.01 2307.17 56.98 2310.43 57.01C2313.69 57.05 2316.95 57.10 2320.21 57.28C2323.48 57.45 2328.37 57.94 2330.00 58.07" stroke="#FF0000" stroke-width="14.3"/>
<path d="M372.96 1457.50C374.59 1374.85 379.48 1072.23 382.74 961.57C385.22 877.46 389.27 838.91 392.53 793.56C395.79 748.22 399.05 719.46 402.31 689.49C405.58 659.52 408.84 636.32 412.10 613.75C415.36 591.17 418.62 572.22 421.89 554.04C425.15 535.86 428.41 519.92 431.67 504.66C434.93 489.40 438.19 475.65 441.46 462.47C444.72 449.29 447.98 437.20 451.24 425.59C454.50 413.97 457.76 403.17 461.03 392.77C464.29 382.37 467.55 372.60 470.81 363.18C474.07 353.75 477.33 344.83 480.60 336.21C483.86 327.58 487.12 319.37 490.38 311.42C493.64 303.47 496.90 295.86 500.17 288.49C503.43 281.11 506.69 274.03 509.95 267.16C513.21 260.29 516.48 253.68 519.74 247.25C523.00 240.82 526.26 234.63 529.52 228.61C532.78 222.58 536.05 216.77 539.31 211.12C542.57 205.47 545.83 200.00 549.09 194.70C552.35 189.40 555.62 184.27 558.88 179.29C562.14 174.32 565.40 169.51 568.66 164.85C571.92 160.19 575.19 155.69 578.45 151.34C581.71 146.99 584.97 142.80 588.23 138.75C591.50 134.71 594.76 130.81 598.02 127.07C601.28 123.32 604.54 119.73 607.80 116.29C611.07 112.84 614.33 109.55 617.59 106.41C620.85 103.27 624.11 100.28 627.37 97.45C630.64 94.61 633.90 91.92 637.16 89.39C640.42 86.86 643.68 84.48 646.94 82.26C650.21 80.03 653.47 77.96 656.73 76.04C659.99 74.12 663.25 72.35 666.52 70.73C669.78 69.11 673.04 67.65 676.30 66.33C679.56 65.01 682.82 63.84 686.09 62.81C689.35 61.78 692.61 60.90 695.87 60.15C699.13 59.40 702.39 58.80 705.66 58.32C708.92 57.84 712.18 57.50 715.44 57.28C718.70 57.07 721.96 56.98 725.23 57.00C728.49 57.03 731.75 57.18 735.01 57.43C738.27 57.69 741.54 58.06 744.80 58.52C748.06 58.99 751.32 59.57 754.58 60.23C757.84 60.89 761.11 61.65 764.37 62.49C767.63 63.33 770.89 64.26 774.15 65.27C777.41 66.27 780.68 67.36 783.94 68.50C787.20 69.65 790.46 70.88 793.72 72.16C796.98 73.44 800.25 74.79 803.51 76.19C806.77 77.59 810.03 79.05 813.29 80.55C816.55 82.05 819.82 83.61 823.08 85.21C826.34 86.80 829.60 88.45 832.86 90.12C836.13 91.80 839.39 93.52 842.65 95.27C845.91 97.02 849.17 98.81 852.43 100.63C855.70 102.44 858.96 104.29 862.22 106.16C865.48 108.03 868.74 109.93 872.00 111.85C875.27 113.78 878.53 115.72 881.79 117.69C885.05 119.65 888.31 121.64 891.57 123.65C894.84 125.66 898.10 127.68 901.36 129.72C904.62 131.77 907.88 133.83 911.15 135.90C914.41 137.98 917.67 140.07 920.93 142.17C924.19 144.28 927.45 146.40 930.72 148.53C933.98 150.67 937.24 152.82 940.50 154.98C943.76 157.14 947.02 159.32 950.29 161.51C953.55 163.69 956.81 165.90 960.07 168.11C963.33 170.33 966.59 172.56 969.86 174.80C973.12 177.04 976.38 179.30 979.64 181.57C982.90 183.84 986.17 186.12 989.43 188.43C992.69 190.73 995.95 193.04 999.21 195.37C1002.47 197.70 1005.74 200.05 1009.00 202.41C1012.26 204.78 1015.52 207.16 1018.78 209.56C1022.04 211.96 1025.31 214.38 1028.57 216.82C1031.83 219.26 1035.09 221.72 1038.35 224.21C1041.61 226.69 1044.88 229.19 1048.14 231.73C1051.40 234.26 1054.66 236.81 1057.92 239.40C1061.19 241.98 1064.45 244.59 1067.71 247.24C1070.97 249.88 1074.23 252.55 1077.49 255.26C1080.76 257.97 1084.02 260.71 1087.28 263.49C1090.54 266.28 1093.80 269.09 1097.06 271.96C1100.33 274.82 1103.59 277.72 1106.85 280.68C1110.11 283.64 1113.37 286.64 1116.63 289.70C1119.90 292.76 1123.16 295.86 1126.42 299.04C1129.68 302.22 1132.94 305.45 1136.20 308.76C1139.47 312.07 1142.73 315.44 1145.99 318.90C1149.25 322.36 1152.51 325.88 1155.78 329.52C1159.04 333.15 1162.30 336.86 1165.56 340.68C1168.82 344.51 1172.08 348.43 1175.35 352.48C1178.61 356.54 1181.87 360.69 1185.13 365.01C1188.39 369.33 1191.65 373.76 1194.92 378.39C1198.18 383.01 1201.44 387.77 1204.70 392.75C1207.96 397.74 1211.22 402.88 1214.49 408.29C1217.75 413.70 1221.01 419.30 1224.27 425.23C1227.53 431.15 1230.80 437.30 1234.06 443.85C1237.32 450.40 1240.58 457.21 1243.84 464.53C1247.10 471.85 1250.37 479.49 1253.63 487.78C1256.89 496.07 1260.15 504.74 1263.41 514.28C1266.67 523.82 1269.94 533.82 1273.20 545.02C1276.46 556.22 1279.72 567.98 1282.98 581.46C1286.24 594.95 1289.51 609.10 1292.77 625.93C1296.03 642.75 1299.29 660.28 1302.55 682.40C1305.82 704.52 1309.08 726.85 1312.34 758.64C1315.60 790.43 1318.86 817.24 1322.12 873.16C1325.39 929.09 1328.65 1004.43 1331.91 1094.19C1335.17 1183.96 1338.43 1437.44 1341.69 1411.75C1344.96 1386.06 1348.22 1048.06 1351.48 940.07C1354.14 851.86 1358.00 812.36 1361.26 763.84C1364.53 715.32 1367.79 682.70 1371.05 648.94C1374.31 615.19 1377.57 587.96 1380.84 561.31C1384.10 534.66 1387.36 511.50 1390.62 489.05C1393.88 466.61 1397.14 446.29 1400.41 426.64C1403.67 406.98 1406.93 388.76 1410.19 371.12C1413.45 353.48 1416.71 336.87 1419.98 320.81C1423.24 304.75 1426.50 289.48 1429.76 274.77C1433.02 260.06 1436.28 246.00 1439.55 232.55C1442.81 219.11 1446.07 206.25 1449.33 194.10C1452.59 181.94 1455.86 170.38 1459.12 159.62C1462.38 148.87 1465.64 138.76 1468.90 129.57C1472.16 120.37 1475.43 111.92 1478.69 104.44C1481.95 96.96 1485.21 90.34 1488.47 84.68C1491.73 79.01 1495.00 74.30 1498.26 70.45C1501.52 66.59 1504.78 63.72 1508.04 61.56C1511.30 59.40 1514.57 58.17 1517.83 57.48C1521.09 56.79 1524.35 56.91 1527.61 57.42C1530.87 57.92 1534.14 59.08 1537.40 60.49C1540.66 61.90 1543.92 63.81 1547.18 65.87C1550.45 67.93 1553.71 70.34 1556.97 72.84C1560.23 75.33 1563.49 78.07 1566.75 80.84C1570.02 83.60 1573.28 86.52 1576.54 89.44C1579.80 92.36 1583.06 95.36 1586.32 98.35C1589.59 101.33 1592.85 104.35 1596.11 107.34C1599.37 110.33 1602.63 113.33 1605.89 116.29C1609.16 119.25 1612.42 122.20 1615.68 125.10C1618.94 128.01 1622.20 130.88 1625.47 133.71C1628.73 136.55 1631.99 139.34 1635.25 142.10C1638.51 144.85 1641.77 147.56 1645.04 150.23C1648.30 152.90 1651.56 155.53 1654.82 158.12C1658.08 160.70 1661.34 163.25 1664.61 165.75C1667.87 168.26 1671.13 170.72 1674.39 173.15C1677.65 175.58 1680.91 177.96 1684.18 180.32C1687.44 182.67 1690.70 184.98 1693.96 187.26C1697.22 189.54 1700.49 191.79 1703.75 194.00C1707.01 196.22 1710.27 198.40 1713.53 200.55C1716.79 202.70 1720.06 204.82 1723.32 206.91C1726.58 209.00 1729.84 211.07 1733.10 213.11C1736.36 215.14 1739.63 217.15 1742.89 219.14C1746.15 221.13 1749.41 223.09 1752.67 225.04C1755.93 226.98 1759.20 228.90 1762.46 230.80C1765.72 232.70 1768.98 234.57 1772.24 236.43C1775.51 238.29 1778.77 240.13 1782.03 241.96C1785.29 243.78 1788.55 245.59 1791.81 247.38C1795.08 249.17 1798.34 250.94 1801.60 252.70C1804.86 254.46 1808.12 256.21 1811.38 257.94C1814.65 259.68 1817.91 261.39 1821.17 263.10C1824.43 264.81 1827.69 266.51 1830.95 268.20C1834.22 269.89 1837.48 271.56 1840.74 273.23C1844.00 274.90 1847.26 276.56 1850.52 278.21C1853.79 279.86 1857.05 281.50 1860.31 283.14C1863.57 284.78 1866.83 286.41 1870.10 288.03C1873.36 289.66 1876.62 291.28 1879.88 292.89C1883.14 294.51 1886.40 296.12 1889.67 297.73C1892.93 299.34 1896.19 300.94 1899.45 302.55C1902.71 304.15 1905.97 305.75 1909.24 307.36C1912.50 308.96 1915.76 310.56 1919.02 312.16C1922.28 313.76 1925.54 315.36 1928.81 316.97C1932.07 318.57 1935.33 320.18 1938.59 321.79C1941.85 323.40 1945.12 325.01 1948.38 326.63C1951.64 328.25 1954.90 329.87 1958.16 331.50C1961.42 333.12 1964.69 334.76 1967.95 336.40C1971.21 338.04 1974.47 339.69 1977.73 341.35C1980.99 343.01 1984.26 344.68 1987.52 346.36C1990.78 348.04 1994.04 349.73 1997.30 351.43C2000.56 353.14 2003.83 354.85 2007.09 356.58C2010.35 358.32 2013.61 360.06 2016.87 361.83C2020.14 363.59 2023.40 365.37 2026.66 367.17C2029.92 368.98 2033.18 370.80 2036.44 372.64C2039.71 374.49 2042.97 376.35 2046.23 378.25C2049.49 380.14 2052.75 382.06 2056.01 384.01C2059.28 385.96 2062.54 387.93 2065.80 389.95C2069.06 391.96 2072.32 394.00 2075.58 396.09C2078.85 398.17 2082.11 400.29 2085.37 402.46C2088.63 404.63 2091.89 406.83 2095.16 409.09C2098.42 411.35 2101.68 413.65 2104.94 416.02C2108.20 418.39 2111.46 420.80 2114.73 423.29C2117.99 425.78 2121.25 428.33 2124.51 430.95C2127.77 433.58 2131.03 436.28 2134.30 439.07C2137.56 441.86 2140.82 444.72 2144.08 447.70C2147.34 450.68 2150.60 453.75 2153.87 456.95C2157.13 460.15 2160.39 463.44 2163.65 466.90C2166.91 470.36 2170.17 473.93 2173.44 477.70C2176.70 481.46 2179.96 485.36 2183.22 489.50C2186.48 493.63 2189.75 497.92 2193.01 502.50C2196.27 507.08 2199.53 511.85 2202.79 516.98C2206.05 522.11 2209.32 527.47 2212.58 533.28C2215.84 539.10 2219.10 545.19 2222.36 551.88C2225.62 558.57 2228.89 565.59 2232.15 573.42C2235.41 581.25 2238.67 589.49 2241.93 598.86C2245.19 608.23 2248.46 618.10 2251.72 629.63C2254.98 641.15 2258.24 653.28 2261.50 668.00C2264.77 682.73 2268.03 698.08 2271.29 717.98C2274.55 737.88 2277.81 757.85 2281.07 787.40C2284.34 816.96 2287.62 841.24 2290.86 895.33C2294.12 949.76 2297.38 1034.70 2300.64 1113.99C2303.91 1193.28 2307.17 1403.85 2310.43 1371.06C2313.69 1338.27 2316.95 1023.96 2320.21 917.24C2323.07 823.90 2328.37 761.81 2330.00 730.72" stroke="#FF0000" stroke-width="7.5" stroke-dasharray="13.5 12.7"/>
<path d="M372.96 57.01C374.59 57.04 379.48 57.09 382.74 57.20C386.01 57.32 389.27 57.48 392.53 57.70C395.79 57.93 399.05 58.20 402.31 58.55C405.58 58.91 408.84 59.32 412.10 59.85C415.36 60.39 418.62 60.98 421.89 61.75C425.15 62.53 428.41 63.38 431.67 64.50C434.93 65.63 438.19 66.85 441.46 68.52C444.72 70.18 447.98 71.97 451.24 74.49C454.50 77.00 457.76 79.68 461.03 83.63C464.29 87.57 467.55 91.70 470.81 98.16C474.07 104.62 477.33 111.24 480.60 122.37C483.86 133.49 487.12 144.48 490.38 164.93C493.64 185.38 497.04 204.82 500.17 245.06C503.43 287.01 509.28 330.71 509.95 416.62C513.21 836.84 516.48 2763.23 519.74 2766.38C523.00 2769.52 526.26 850.87 529.52 435.47C530.16 354.58 536.05 313.52 539.31 273.98C542.45 235.92 545.83 217.88 549.09 198.23C552.35 178.58 555.62 167.39 558.88 156.08C562.14 144.77 565.40 137.45 568.66 130.37C571.92 123.29 575.19 118.32 578.45 113.62C581.71 108.91 584.97 105.41 588.23 102.12C591.50 98.83 594.76 96.28 598.02 93.90C601.28 91.51 604.54 89.60 607.80 87.81C611.07 86.02 614.33 84.55 617.59 83.17C620.85 81.79 624.11 80.63 627.37 79.55C630.64 78.46 633.90 77.53 637.16 76.66C640.42 75.79 643.68 75.04 646.94 74.33C650.21 73.62 653.47 72.99 656.73 72.40C659.99 71.81 663.25 71.29 666.52 70.80C669.78 70.30 673.04 69.86 676.30 69.44C679.56 69.02 682.82 68.64 686.09 68.29C689.35 67.93 692.61 67.60 695.87 67.29C699.13 66.98 702.39 66.70 705.66 66.43C708.92 66.16 712.18 65.91 715.44 65.68C718.70 65.44 721.96 65.22 725.23 65.02C728.49 64.81 731.75 64.61 735.01 64.43C738.27 64.24 741.54 64.07 744.80 63.91C748.06 63.74 751.32 63.59 754.58 63.44C757.84 63.29 761.11 63.15 764.37 63.02C767.63 62.89 770.89 62.76 774.15 62.64C777.41 62.52 780.68 62.41 783.94 62.30C787.20 62.19 790.46 62.09 793.72 61.99C796.98 61.89 800.25 61.79 803.51 61.70C806.77 61.61 810.03 61.53 813.29 61.44C816.55 61.36 819.82 61.28 823.08 61.20C826.34 61.13 829.60 61.05 832.86 60.98C836.13 60.91 839.39 60.85 842.65 60.78C845.91 60.72 849.17 60.65 852.43 60.59C855.70 60.53 858.96 60.47 862.22 60.42C865.48 60.36 868.74 60.31 872.00 60.26C875.27 60.20 878.53 60.15 881.79 60.11C885.05 60.06 888.31 60.01 891.57 59.96C894.84 59.92 898.10 59.88 901.36 59.83C904.62 59.79 907.88 59.75 911.15 59.71C914.41 59.67 917.67 59.63 920.93 59.59C924.19 59.56 927.45 59.52 930.72 59.48C933.98 59.45 937.24 59.42 940.50 59.38C943.76 59.35 947.02 59.32 950.29 59.29C953.55 59.25 956.81 59.22 960.07 59.19C963.33 59.16 966.59 59.14 969.86 59.11C973.12 59.08 976.38 59.05 979.64 59.03C982.90 59.00 986.17 58.97 989.43 58.95C992.69 58.92 995.95 58.90 999.21 58.87C1002.47 58.85 1005.74 58.83 1009.00 58.80C1012.26 58.78 1015.52 58.76 1018.78 58.74C1022.04 58.72 1025.31 58.69 1028.57 58.67C1031.83 58.65 1035.09 58.63 1038.35 58.61C1041.61 58.59 1044.88 58.57 1048.14 58.55C1051.40 58.54 1054.66 58.52 1057.92 58.50C1061.19 58.48 1064.45 58.46 1067.71 58.44C1070.97 58.43 1074.23 58.41 1077.49 58.39C1080.76 58.38 1084.02 58.36 1087.28 58.34C1090.54 58.33 1093.80 58.31 1097.06 58.30C1100.33 58.28 1103.59 58.26 1106.85 58.25C1110.11 58.23 1113.37 58.22 1116.63 58.20C1119.90 58.19 1123.16 58.17 1126.42 58.16C1129.68 58.15 1132.94 58.13 1136.20 58.12C1139.47 58.10 1142.73 58.09 1145.99 58.08C1149.25 58.06 1152.51 58.05 1155.78 58.04C1159.04 58.02 1162.30 58.01 1165.56 57.99C1168.82 57.98 1172.08 57.97 1175.35 57.96C1178.61 57.94 1181.87 57.93 1185.13 57.92C1188.39 57.90 1191.65 57.89 1194.92 57.88C1198.18 57.86 1201.44 57.85 1204.70 57.84C1207.96 57.82 1211.22 57.81 1214.49 57.80C1217.75 57.78 1221.01 57.77 1224.27 57.76C1227.53 57.74 1230.80 57.73 1234.06 57.72C1237.32 57.70 1240.58 57.69 1243.84 57.67C1247.10 57.66 1250.37 57.64 1253.63 57.63C1256.89 57.61 1260.15 57.60 1263.41 57.58C1266.67 57.56 1269.94 57.55 1273.20 57.53C1276.46 57.51 1279.72 57.49 1282.98 57.47C1286.24 57.45 1289.51 57.43 1292.77 57.41C1296.03 57.39 1299.29 57.36 1302.55 57.34C1305.82 57.31 1309.08 57.28 1312.34 57.25C1315.60 57.22 1318.86 57.19 1322.12 57.15C1325.39 57.12 1328.65 57.07 1331.91 57.05C1335.17 57.02 1338.43 56.88 1341.69 57.01C1344.96 57.13 1349.86 53.17 1351.48 57.81C1354.74 67.11 1358.00 110.70 1361.26 112.85C1364.53 115.00 1367.79 79.26 1371.05 70.69C1373.45 64.39 1377.57 63.26 1380.84 61.43C1384.10 59.60 1387.36 60.11 1390.62 59.71C1393.88 59.31 1397.14 59.21 1400.41 59.04C1403.67 58.86 1406.93 58.78 1410.19 58.68C1413.45 58.58 1416.71 58.52 1419.98 58.46C1423.24 58.40 1426.50 58.35 1429.76 58.31C1433.02 58.26 1436.28 58.23 1439.55 58.20C1442.81 58.16 1446.07 58.14 1449.33 58.11C1452.59 58.08 1455.86 58.06 1459.12 58.04C1462.38 58.02 1465.64 58.00 1468.90 57.98C1472.16 57.97 1475.43 57.95 1478.69 57.93C1481.95 57.92 1485.21 57.91 1488.47 57.89C1491.73 57.88 1495.00 57.87 1498.26 57.86C1501.52 57.84 1504.78 57.83 1508.04 57.82C1511.30 57.81 1514.57 57.80 1517.83 57.79C1521.09 57.79 1524.35 57.78 1527.61 57.77C1530.87 57.76 1534.14 57.75 1537.40 57.74C1540.66 57.74 1543.92 57.73 1547.18 57.72C1550.45 57.71 1553.71 57.71 1556.97 57.70C1560.23 57.69 1563.49 57.69 1566.75 57.68C1570.02 57.67 1573.28 57.67 1576.54 57.66C1579.80 57.66 1583.06 57.65 1586.32 57.65C1589.59 57.64 1592.85 57.64 1596.11 57.63C1599.37 57.62 1602.63 57.62 1605.89 57.61C1609.16 57.61 1612.42 57.61 1615.68 57.60C1618.94 57.60 1622.20 57.59 1625.47 57.59C1628.73 57.58 1631.99 57.58 1635.25 57.57C1638.51 57.57 1641.77 57.57 1645.04 57.56C1648.30 57.56 1651.56 57.55 1654.82 57.55C1658.08 57.55 1661.34 57.54 1664.61 57.54C1667.87 57.53 1671.13 57.53 1674.39 57.53C1677.65 57.52 1680.91 57.52 1684.18 57.52C1687.44 57.51 1690.70 57.51 1693.96 57.51C1697.22 57.50 1700.49 57.50 1703.75 57.50C1707.01 57.49 1710.27 57.49 1713.53 57.49C1716.79 57.48 1720.06 57.48 1723.32 57.48C1726.58 57.47 1729.84 57.47 1733.10 57.47C1736.36 57.47 1739.63 57.46 1742.89 57.46C1746.15 57.46 1749.41 57.45 1752.67 57.45C1755.93 57.45 1759.20 57.45 1762.46 57.44C1765.72 57.44 1768.98 57.44 1772.24 57.44C1775.51 57.43 1778.77 57.43 1782.03 57.43C1785.29 57.43 1788.55 57.42 1791.81 57.42C1795.08 57.42 1798.34 57.42 1801.60 57.41C1804.86 57.41 1808.12 57.41 1811.38 57.41C1814.65 57.40 1817.91 57.40 1821.17 57.40C1824.43 57.40 1827.69 57.40 1830.95 57.39C1834.22 57.39 1837.48 57.39 1840.74 57.39C1844.00 57.38 1847.26 57.38 1850.52 57.38C1853.79 57.38 1857.05 57.38 1860.31 57.37C1863.57 57.37 1866.83 57.37 1870.10 57.37C1873.36 57.37 1876.62 57.36 1879.88 57.36C1883.14 57.36 1886.40 57.36 1889.67 57.36C1892.93 57.35 1896.19 57.35 1899.45 57.35C1902.71 57.35 1905.97 57.35 1909.24 57.34C1912.50 57.34 1915.76 57.34 1919.02 57.34C1922.28 57.34 1925.54 57.34 1928.81 57.33C1932.07 57.33 1935.33 57.33 1938.59 57.33C1941.85 57.33 1945.12 57.33 1948.38 57.32C1951.64 57.32 1954.90 57.32 1958.16 57.32C1961.42 57.32 1964.69 57.32 1967.95 57.31C1971.21 57.31 1974.47 57.31 1977.73 57.31C1980.99 57.31 1984.26 57.31 1987.52 57.30C1990.78 57.30 1994.04 57.30 1997.30 57.30C2000.56 57.30 2003.83 57.30 2007.09 57.29C2010.35 57.29 2013.61 57.29 2016.87 57.29C2020.14 57.29 2023.40 57.29 2026.66 57.29C2029.92 57.28 2033.18 57.28 2036.44 57.28C2039.71 57.28 2042.97 57.28 2046.23 57.28C2049.49 57.27 2052.75 57.27 2056.01 57.27C2059.28 57.27 2062.54 57.27 2065.80 57.27C2069.06 57.27 2072.32 57.26 2075.58 57.26C2078.85 57.26 2082.11 57.26 2085.37 57.26C2088.63 57.26 2091.89 57.26 2095.16 57.25C2098.42 57.25 2101.68 57.25 2104.94 57.25C2108.20 57.25 2111.46 57.25 2114.73 57.25C2117.99 57.24 2121.25 57.24 2124.51 57.24C2127.77 57.24 2131.03 57.24 2134.30 57.24C2137.56 57.23 2140.82 57.23 2144.08 57.23C2147.34 57.23 2150.60 57.23 2153.87 57.23C2157.13 57.23 2160.39 57.22 2163.65 57.22C2166.91 57.22 2170.17 57.22 2173.44 57.22C2176.70 57.21 2179.96 57.21 2183.22 57.21C2186.48 57.21 2189.75 57.21 2193.01 57.21C2196.27 57.20 2199.53 57.20 2202.79 57.20C2206.05 57.20 2209.32 57.20 2212.58 57.19C2215.84 57.19 2219.10 57.19 2222.36 57.19C2225.62 57.18 2228.89 57.18 2232.15 57.18C2235.41 57.18 2238.67 57.17 2241.93 57.17C2245.19 57.17 2248.46 57.16 2251.72 57.16C2254.98 57.15 2258.24 57.15 2261.50 57.15C2264.77 57.14 2268.03 57.14 2271.29 57.13C2274.55 57.12 2277.81 57.12 2281.07 57.11C2284.34 57.10 2287.60 57.09 2290.86 57.08C2294.12 57.06 2297.38 57.04 2300.64 57.03C2303.91 57.02 2310.28 52.12 2310.43 57.01C2313.69 160.40 2316.95 677.18 2320.21 677.37C2323.48 677.55 2328.37 161.31 2330.00 58.10" stroke="#00B050" stroke-width="14.3"/>
<path d="M372.96 1457.48C374.59 1374.60 379.48 1071.62 382.74 960.16C385.26 874.35 389.27 835.57 392.53 788.74C395.79 741.91 399.05 711.34 402.31 679.18C405.58 647.02 408.84 621.29 412.10 595.78C415.36 570.26 418.62 548.02 421.89 526.10C425.15 504.17 428.41 484.11 431.67 464.25C434.93 444.40 438.19 425.64 441.46 406.94C444.72 388.24 447.98 370.17 451.24 352.06C454.50 333.95 457.76 316.15 461.03 298.30C464.29 280.45 467.55 262.64 470.81 244.97C474.07 227.30 477.33 209.45 480.60 192.28C483.86 175.10 487.12 157.62 490.38 141.93C493.64 126.24 496.90 110.50 500.17 98.13C503.43 85.76 506.69 74.56 509.95 67.71C513.07 61.16 516.48 57.24 519.74 57.00C523.00 56.77 526.26 60.90 529.52 66.30C532.78 71.69 536.05 80.62 539.31 89.38C542.57 98.15 545.83 108.81 549.09 118.89C552.35 128.98 555.62 139.72 558.88 149.89C562.14 160.07 565.40 170.25 568.66 179.95C571.92 189.66 575.19 199.08 578.45 208.11C581.71 217.14 584.97 225.81 588.23 234.13C591.50 242.46 594.76 250.41 598.02 258.08C601.28 265.74 604.54 273.06 607.80 280.12C611.07 287.19 614.33 293.94 617.59 300.48C620.85 307.01 624.11 313.27 627.37 319.33C630.64 325.40 633.90 331.22 637.16 336.88C640.42 342.53 643.68 347.97 646.94 353.26C650.21 358.55 653.47 363.65 656.73 368.61C659.99 373.58 663.25 378.38 666.52 383.06C669.78 387.74 673.04 392.28 676.30 396.70C679.56 401.13 682.82 405.42 686.09 409.62C689.35 413.82 692.61 417.89 695.87 421.89C699.13 425.88 702.39 429.76 705.66 433.57C708.92 437.37 712.18 441.08 715.44 444.72C718.70 448.35 721.96 451.90 725.23 455.38C728.49 458.87 731.75 462.27 735.01 465.61C738.27 468.95 741.54 472.22 744.80 475.44C748.06 478.65 751.32 481.80 754.58 484.89C757.84 487.99 761.11 491.02 764.37 494.01C767.63 496.99 770.89 499.92 774.15 502.81C777.41 505.69 780.68 508.53 783.94 511.32C787.20 514.11 790.46 516.85 793.72 519.56C796.98 522.26 800.25 524.92 803.51 527.55C806.77 530.17 810.03 532.75 813.29 535.30C816.55 537.85 819.82 540.36 823.08 542.84C826.34 545.32 829.60 547.76 832.86 550.17C836.13 552.59 839.39 554.97 842.65 557.32C845.91 559.67 849.17 561.99 852.43 564.28C855.70 566.58 858.96 568.84 862.22 571.08C865.48 573.32 868.74 575.53 872.00 577.72C875.27 579.91 878.53 582.07 881.79 584.21C885.05 586.36 888.31 588.47 891.57 590.57C894.84 592.67 898.10 594.74 901.36 596.79C904.62 598.85 907.88 600.88 911.15 602.90C914.41 604.91 917.67 606.91 920.93 608.88C924.19 610.86 927.45 612.82 930.72 614.76C933.98 616.71 937.24 618.63 940.50 620.54C943.76 622.45 947.02 624.35 950.29 626.23C953.55 628.11 956.81 629.97 960.07 631.82C963.33 633.68 966.59 635.51 969.86 637.34C973.12 639.16 976.38 640.98 979.64 642.78C982.90 644.58 986.17 646.37 989.43 648.15C992.69 649.92 995.95 651.69 999.21 653.45C1002.47 655.21 1005.74 656.96 1009.00 658.70C1012.26 660.44 1015.52 662.17 1018.78 663.89C1022.04 665.61 1025.31 667.33 1028.57 669.04C1031.83 670.74 1035.09 672.45 1038.35 674.14C1041.61 675.84 1044.88 677.53 1048.14 679.21C1051.40 680.90 1054.66 682.58 1057.92 684.26C1061.19 685.94 1064.45 687.61 1067.71 689.29C1070.97 690.96 1074.23 692.63 1077.49 694.30C1080.76 695.97 1084.02 697.64 1087.28 699.31C1090.54 700.98 1093.80 702.65 1097.06 704.33C1100.33 706.01 1103.59 707.68 1106.85 709.36C1110.11 711.05 1113.37 712.73 1116.63 714.43C1119.90 716.12 1123.16 717.82 1126.42 719.53C1129.68 721.24 1132.94 722.96 1136.20 724.69C1139.47 726.42 1142.73 728.17 1145.99 729.93C1149.25 731.69 1152.51 733.46 1155.78 735.26C1159.04 737.06 1162.30 738.87 1165.56 740.71C1168.82 742.55 1172.08 744.42 1175.35 746.32C1178.61 748.22 1181.87 750.14 1185.13 752.11C1188.39 754.08 1191.65 756.08 1194.92 758.13C1198.18 760.19 1201.44 762.29 1204.70 764.45C1207.96 766.62 1211.22 768.83 1214.49 771.14C1217.75 773.44 1221.01 775.81 1224.27 778.29C1227.53 780.77 1230.80 783.32 1234.06 786.03C1237.32 788.74 1240.58 791.53 1243.84 794.54C1247.10 797.55 1250.37 800.66 1253.63 804.07C1256.89 807.47 1260.15 811.02 1263.41 814.98C1266.67 818.93 1269.94 823.07 1273.20 827.81C1276.46 832.56 1279.72 837.52 1282.98 843.44C1286.24 849.37 1289.51 855.55 1292.77 863.36C1296.03 871.18 1299.29 879.19 1302.55 890.34C1305.82 901.48 1309.08 912.22 1312.34 930.23C1315.60 948.23 1319.16 964.08 1322.12 998.38C1325.39 1036.12 1328.65 1090.27 1331.91 1156.66C1335.17 1223.06 1338.43 1461.22 1341.69 1396.73C1344.96 1332.25 1348.22 967.58 1351.48 769.73C1354.74 571.88 1358.00 273.92 1361.26 209.64C1364.53 145.36 1367.79 329.71 1371.05 384.07C1374.31 438.42 1377.57 499.33 1380.84 535.78C1383.85 569.48 1387.36 585.04 1390.62 602.75C1393.88 620.46 1397.14 631.08 1400.41 642.05C1403.67 653.01 1406.93 660.88 1410.19 668.53C1413.45 676.19 1416.71 682.21 1419.98 687.98C1423.24 693.74 1426.50 698.54 1429.76 703.10C1433.02 707.67 1436.28 711.62 1439.55 715.39C1442.81 719.16 1446.07 722.50 1449.33 725.70C1452.59 728.89 1455.86 731.79 1459.12 734.57C1462.38 737.35 1465.64 739.91 1468.90 742.37C1472.16 744.83 1475.43 747.12 1478.69 749.33C1481.95 751.55 1485.21 753.63 1488.47 755.64C1491.73 757.66 1495.00 759.57 1498.26 761.43C1501.52 763.29 1504.78 765.06 1508.04 766.78C1511.30 768.51 1514.57 770.17 1517.83 771.78C1521.09 773.40 1524.35 774.96 1527.61 776.48C1530.87 778.00 1534.14 779.48 1537.40 780.92C1540.66 782.36 1543.92 783.76 1547.18 785.14C1550.45 786.52 1553.71 787.86 1556.97 789.17C1560.23 790.49 1563.49 791.77 1566.75 793.04C1570.02 794.30 1573.28 795.54 1576.54 796.75C1579.80 797.97 1583.06 799.16 1586.32 800.34C1589.59 801.52 1592.85 802.67 1596.11 803.81C1599.37 804.95 1602.63 806.07 1605.89 807.18C1609.16 808.28 1612.42 809.37 1615.68 810.45C1618.94 811.52 1622.20 812.59 1625.47 813.63C1628.73 814.68 1631.99 815.72 1635.25 816.74C1638.51 817.77 1641.77 818.78 1645.04 819.78C1648.30 820.78 1651.56 821.77 1654.82 822.75C1658.08 823.73 1661.34 824.70 1664.61 825.66C1667.87 826.62 1671.13 827.57 1674.39 828.52C1677.65 829.46 1680.91 830.39 1684.18 831.32C1687.44 832.25 1690.70 833.16 1693.96 834.07C1697.22 834.98 1700.49 835.89 1703.75 836.78C1707.01 837.68 1710.27 838.57 1713.53 839.45C1716.79 840.33 1720.06 841.21 1723.32 842.08C1726.58 842.95 1729.84 843.81 1733.10 844.67C1736.36 845.53 1739.63 846.38 1742.89 847.23C1746.15 848.07 1749.41 848.92 1752.67 849.75C1755.93 850.59 1759.20 851.42 1762.46 852.25C1765.72 853.07 1768.98 853.89 1772.24 854.71C1775.51 855.53 1778.77 856.34 1782.03 857.15C1785.29 857.96 1788.55 858.76 1791.81 859.56C1795.08 860.36 1798.34 861.16 1801.60 861.95C1804.86 862.74 1808.12 863.53 1811.38 864.32C1814.65 865.10 1817.91 865.88 1821.17 866.66C1824.43 867.44 1827.69 868.22 1830.95 868.99C1834.22 869.76 1837.48 870.53 1840.74 871.29C1844.00 872.06 1847.26 872.82 1850.52 873.58C1853.79 874.34 1857.05 875.10 1860.31 875.86C1863.57 876.61 1866.83 877.36 1870.10 878.11C1873.36 878.86 1876.62 879.61 1879.88 880.36C1883.14 881.10 1886.40 881.85 1889.67 882.59C1892.93 883.33 1896.19 884.07 1899.45 884.81C1902.71 885.55 1905.97 886.28 1909.24 887.02C1912.50 887.75 1915.76 888.49 1919.02 889.22C1922.28 889.95 1925.54 890.68 1928.81 891.41C1932.07 892.14 1935.33 892.87 1938.59 893.60C1941.85 894.33 1945.12 895.06 1948.38 895.78C1951.64 896.51 1954.90 897.24 1958.16 897.96C1961.42 898.69 1964.69 899.41 1967.95 900.14C1971.21 900.86 1974.47 901.59 1977.73 902.31C1980.99 903.04 1984.26 903.77 1987.52 904.49C1990.78 905.22 1994.04 905.95 1997.30 906.67C2000.56 907.40 2003.83 908.13 2007.09 908.86C2010.35 909.59 2013.61 910.32 2016.87 911.06C2020.14 911.79 2023.40 912.52 2026.66 913.26C2029.92 914.00 2033.18 914.74 2036.44 915.48C2039.71 916.22 2042.97 916.97 2046.23 917.72C2049.49 918.47 2052.75 919.22 2056.01 919.98C2059.28 920.73 2062.54 921.49 2065.80 922.26C2069.06 923.02 2072.32 923.79 2075.58 924.57C2078.85 925.35 2082.11 926.13 2085.37 926.92C2088.63 927.71 2091.89 928.50 2095.16 929.31C2098.42 930.11 2101.68 930.93 2104.94 931.75C2108.20 932.57 2111.46 933.41 2114.73 934.25C2117.99 935.10 2121.25 935.95 2124.51 936.82C2127.77 937.69 2131.03 938.58 2134.30 939.48C2137.56 940.38 2140.82 941.30 2144.08 942.24C2147.34 943.18 2150.60 944.13 2153.87 945.12C2157.13 946.10 2160.39 947.11 2163.65 948.15C2166.91 949.19 2170.17 950.25 2173.44 951.36C2176.70 952.47 2179.96 953.61 2183.22 954.80C2186.48 956.00 2189.75 957.22 2193.01 958.52C2196.27 959.83 2199.53 961.17 2202.79 962.61C2206.05 964.05 2209.32 965.54 2212.58 967.16C2215.84 968.79 2219.10 970.47 2222.36 972.34C2225.62 974.21 2228.89 976.16 2232.15 978.37C2235.41 980.59 2238.67 982.90 2241.93 985.61C2245.19 988.32 2248.46 991.16 2251.72 994.64C2254.98 998.12 2258.24 1001.73 2261.50 1006.47C2264.77 1011.21 2268.03 1016.01 2271.29 1023.07C2274.55 1030.13 2277.81 1036.66 2281.07 1048.85C2284.34 1061.03 2288.13 1072.16 2290.86 1096.17C2294.12 1124.87 2297.38 1182.05 2300.64 1221.01C2303.91 1259.98 2309.51 1384.63 2310.43 1329.95C2313.69 1136.21 2316.95 159.16 2320.21 58.58C2323.48 -42.01 2328.37 615.13 2330.00 726.44" stroke="#00B050" stroke-width="7.5" stroke-dasharray="13.5 12.7"/>
<path d="M372.96 57.01C374.59 57.04 379.48 57.05 382.74 57.23C386.01 57.40 389.27 57.40 392.53 58.04C395.79 58.68 399.18 57.01 402.31 61.06C405.58 65.29 410.96 71.24 412.10 83.36C415.36 118.03 418.62 270.64 421.89 269.07C425.15 267.51 428.41 108.32 431.67 73.98C432.36 66.67 438.19 65.32 441.46 63.03C444.72 60.73 447.98 60.87 451.24 60.20C454.50 59.53 457.76 59.33 461.03 59.03C464.29 58.74 467.55 58.59 470.81 58.43C474.07 58.27 477.33 58.17 480.60 58.07C483.86 57.97 487.12 57.90 490.38 57.83C493.64 57.77 496.90 57.72 500.17 57.67C503.43 57.63 506.69 57.59 509.95 57.56C513.21 57.52 516.48 57.49 519.74 57.47C523.00 57.44 526.26 57.42 529.52 57.40C532.78 57.38 536.05 57.36 539.31 57.35C542.57 57.33 545.83 57.32 549.09 57.30C552.35 57.29 555.62 57.28 558.88 57.27C562.14 57.26 565.40 57.25 568.66 57.24C571.92 57.23 575.19 57.22 578.45 57.22C581.71 57.21 584.97 57.20 588.23 57.19C591.50 57.19 594.76 57.18 598.02 57.18C601.28 57.17 604.54 57.17 607.80 57.16C611.07 57.16 614.33 57.15 617.59 57.15C620.85 57.14 624.11 57.14 627.37 57.14C630.64 57.13 633.90 57.13 637.16 57.12C640.42 57.12 643.68 57.12 646.94 57.12C650.21 57.11 653.47 57.11 656.73 57.11C659.99 57.10 663.25 57.10 666.52 57.10C669.78 57.10 673.04 57.10 676.30 57.09C679.56 57.09 682.82 57.09 686.09 57.09C689.35 57.09 692.61 57.08 695.87 57.08C699.13 57.08 702.39 57.08 705.66 57.08C708.92 57.08 712.18 57.07 715.44 57.07C718.70 57.07 721.96 57.07 725.23 57.07C728.49 57.07 731.75 57.07 735.01 57.06C738.27 57.06 741.54 57.06 744.80 57.06C748.06 57.06 751.32 57.06 754.58 57.06C757.84 57.06 761.11 57.06 764.37 57.06C767.63 57.05 770.89 57.05 774.15 57.05C777.41 57.05 780.68 57.05 783.94 57.05C787.20 57.05 790.46 57.05 793.72 57.05C796.98 57.05 800.25 57.05 803.51 57.05C806.77 57.04 810.03 57.04 813.29 57.04C816.55 57.04 819.82 57.04 823.08 57.04C826.34 57.04 829.60 57.04 832.86 57.04C836.13 57.04 839.39 57.04 842.65 57.04C845.91 57.04 849.17 57.04 852.43 57.04C855.70 57.04 858.96 57.04 862.22 57.03C865.48 57.03 868.74 57.03 872.00 57.03C875.27 57.03 878.53 57.03 881.79 57.03C885.05 57.03 888.31 57.03 891.57 57.03C894.84 57.03 898.10 57.03 901.36 57.03C904.62 57.03 907.88 57.03 911.15 57.03C914.41 57.03 917.67 57.03 920.93 57.03C924.19 57.03 927.45 57.03 930.72 57.03C933.98 57.03 937.24 57.03 940.50 57.03C943.76 57.03 947.02 57.03 950.29 57.02C953.55 57.02 956.81 57.02 960.07 57.02C963.33 57.02 966.59 57.02 969.86 57.02C973.12 57.02 976.38 57.02 979.64 57.02C982.90 57.02 986.17 57.02 989.43 57.02C992.69 57.02 995.95 57.02 999.21 57.02C1002.47 57.02 1005.74 57.02 1009.00 57.02C1012.26 57.02 1015.52 57.02 1018.78 57.02C1022.04 57.02 1025.31 57.02 1028.57 57.02C1031.83 57.02 1035.09 57.02 1038.35 57.02C1041.61 57.02 1044.88 57.02 1048.14 57.02C1051.40 57.02 1054.66 57.02 1057.92 57.02C1061.19 57.02 1064.45 57.02 1067.71 57.02C1070.97 57.02 1074.23 57.02 1077.49 57.02C1080.76 57.02 1084.02 57.02 1087.28 57.02C1090.54 57.02 1093.80 57.02 1097.06 57.02C1100.33 57.02 1103.59 57.02 1106.85 57.02C1110.11 57.02 1113.37 57.01 1116.63 57.01C1119.90 57.01 1123.16 57.01 1126.42 57.01C1129.68 57.01 1132.94 57.01 1136.20 57.01C1139.47 57.01 1142.73 57.01 1145.99 57.01C1149.25 57.01 1152.51 57.01 1155.78 57.01C1159.04 57.01 1162.30 57.01 1165.56 57.01C1168.82 57.01 1172.08 57.01 1175.35 57.01C1178.61 57.01 1181.87 57.01 1185.13 57.01C1188.39 57.01 1191.65 57.01 1194.92 57.01C1198.18 57.01 1201.44 57.01 1204.70 57.01C1207.96 57.01 1211.22 57.01 1214.49 57.01C1217.75 57.01 1221.01 57.01 1224.27 57.01C1227.53 57.01 1230.80 57.01 1234.06 57.01C1237.32 57.01 1240.58 57.01 1243.84 57.01C1247.10 57.01 1250.37 57.01 1253.63 57.01C1256.89 57.01 1260.15 57.01 1263.41 57.01C1266.67 57.01 1269.94 57.01 1273.20 57.01C1276.46 57.01 1279.72 57.01 1282.98 57.01C1286.24 57.01 1289.51 57.01 1292.77 57.01C1296.03 57.01 1299.29 57.01 1302.55 57.01C1305.82 57.01 1309.08 57.01 1312.34 57.01C1315.60 57.01 1318.86 57.01 1322.12 57.01C1325.39 57.01 1328.65 56.90 1331.91 57.01C1335.17 57.11 1338.43 57.65 1341.69 57.65C1344.96 57.65 1348.22 57.12 1351.48 57.01C1354.74 56.91 1358.00 57.01 1361.26 57.01C1364.53 57.01 1367.79 57.01 1371.05 57.01C1374.31 57.01 1377.57 57.01 1380.84 57.01C1384.10 57.01 1387.36 57.01 1390.62 57.01C1393.88 57.01 1397.14 57.01 1400.41 57.01C1403.67 57.01 1406.93 57.01 1410.19 57.01C1413.45 57.01 1416.71 57.01 1419.98 57.01C1423.24 57.01 1426.50 57.01 1429.76 57.01C1433.02 57.01 1436.28 57.01 1439.55 57.01C1442.81 57.01 1446.07 57.01 1449.33 57.01C1452.59 57.01 1455.86 57.01 1459.12 57.01C1462.38 57.01 1465.64 57.01 1468.90 57.01C1472.16 57.01 1475.43 57.01 1478.69 57.01C1481.95 57.01 1485.21 57.01 1488.47 57.01C1491.73 57.01 1495.00 57.01 1498.26 57.01C1501.52 57.01 1504.78 57.01 1508.04 57.01C1511.30 57.01 1514.57 57.01 1517.83 57.01C1521.09 57.01 1524.35 57.01 1527.61 57.01C1530.87 57.01 1534.14 57.01 1537.40 57.01C1540.66 57.01 1543.92 57.01 1547.18 57.01C1550.45 57.01 1553.71 57.01 1556.97 57.01C1560.23 57.01 1563.49 57.01 1566.75 57.01C1570.02 57.01 1573.28 57.01 1576.54 57.01C1579.80 57.01 1583.06 57.01 1586.32 57.01C1589.59 57.01 1592.85 57.01 1596.11 57.01C1599.37 57.01 1602.63 57.01 1605.89 57.01C1609.16 57.01 1612.42 57.01 1615.68 57.01C1618.94 57.01 1622.20 57.01 1625.47 57.01C1628.73 57.01 1631.99 57.01 1635.25 57.01C1638.51 57.01 1641.77 57.01 1645.04 57.01C1648.30 57.01 1651.56 57.01 1654.82 57.01C1658.08 57.01 1661.34 57.01 1664.61 57.01C1667.87 57.01 1671.13 57.01 1674.39 57.00C1677.65 57.00 1680.91 57.00 1684.18 57.00C1687.44 57.00 1690.70 57.00 1693.96 57.00C1697.22 57.00 1700.49 57.00 1703.75 57.00C1707.01 57.00 1710.27 57.00 1713.53 57.00C1716.79 57.00 1720.06 57.00 1723.32 57.00C1726.58 57.00 1729.84 57.00 1733.10 57.00C1736.36 57.00 1739.63 57.00 1742.89 57.00C1746.15 57.00 1749.41 57.00 1752.67 57.00C1755.93 57.00 1759.20 57.00 1762.46 57.00C1765.72 57.00 1768.98 57.00 1772.24 57.00C1775.51 57.00 1778.77 57.00 1782.03 57.00C1785.29 57.00 1788.55 57.00 1791.81 57.00C1795.08 57.00 1798.34 57.00 1801.60 57.00C1804.86 57.00 1808.12 57.00 1811.38 57.00C1814.65 57.00 1817.91 57.00 1821.17 57.00C1824.43 57.00 1827.69 57.00 1830.95 57.00C1834.22 57.00 1837.48 57.00 1840.74 57.00C1844.00 57.00 1847.26 57.00 1850.52 57.00C1853.79 57.00 1857.05 57.00 1860.31 57.00C1863.57 57.00 1866.83 57.00 1870.10 57.00C1873.36 57.00 1876.62 57.00 1879.88 57.00C1883.14 57.00 1886.40 57.00 1889.67 57.00C1892.93 57.00 1896.19 57.00 1899.45 57.00C1902.71 57.00 1905.97 57.00 1909.24 57.00C1912.50 57.00 1915.76 57.00 1919.02 57.00C1922.28 57.00 1925.54 57.00 1928.81 57.00C1932.07 57.00 1935.33 57.00 1938.59 57.00C1941.85 57.00 1945.12 57.00 1948.38 57.00C1951.64 57.00 1954.90 57.00 1958.16 57.00C1961.42 57.00 1964.69 57.00 1967.95 57.00C1971.21 57.00 1974.47 57.00 1977.73 57.00C1980.99 57.00 1984.26 57.00 1987.52 57.00C1990.78 57.00 1994.04 57.00 1997.30 57.00C2000.56 57.00 2003.83 57.00 2007.09 57.00C2010.35 57.00 2013.61 57.00 2016.87 57.00C2020.14 57.00 2023.40 57.00 2026.66 57.00C2029.92 57.00 2033.18 57.00 2036.44 57.00C2039.71 57.00 2042.97 57.00 2046.23 57.00C2049.49 57.00 2052.75 57.00 2056.01 57.00C2059.28 57.00 2062.54 57.00 2065.80 57.00C2069.06 57.00 2072.32 57.00 2075.58 57.00C2078.85 57.00 2082.11 57.00 2085.37 57.00C2088.63 57.00 2091.89 57.00 2095.16 57.00C2098.42 57.00 2101.68 57.00 2104.94 57.00C2108.20 57.00 2111.46 57.00 2114.73 57.00C2117.99 57.00 2121.25 57.00 2124.51 57.00C2127.77 57.00 2131.03 57.00 2134.30 57.00C2137.56 57.00 2140.82 57.00 2144.08 57.00C2147.34 57.00 2150.60 57.00 2153.87 57.00C2157.13 57.00 2160.39 57.00 2163.65 57.00C2166.91 57.00 2170.17 57.00 2173.44 57.00C2176.70 57.00 2179.96 57.00 2183.22 57.00C2186.48 57.00 2189.75 57.00 2193.01 57.00C2196.27 57.00 2199.53 57.00 2202.79 57.00C2206.05 57.00 2209.32 57.00 2212.58 57.00C2215.84 57.00 2219.10 57.00 2222.36 57.00C2225.62 57.00 2228.89 57.00 2232.15 57.00C2235.41 57.00 2238.67 57.00 2241.93 57.00C2245.19 57.00 2248.46 57.00 2251.72 57.00C2254.98 57.00 2258.24 57.00 2261.50 57.00C2264.77 57.00 2268.03 57.00 2271.29 57.00C2274.55 57.00 2277.81 57.00 2281.07 57.00C2284.34 57.00 2287.60 57.00 2290.86 57.00C2294.12 57.00 2297.38 57.00 2300.64 57.00C2303.91 57.00 2307.17 57.01 2310.43 57.01C2313.69 57.01 2316.95 57.00 2320.21 57.00C2323.48 57.00 2328.37 57.00 2330.00 57.00" stroke="#FF00FF" stroke-width="14.3"/>
<path d="M372.96 1457.09C374.59 1371.81 379.48 1065.75 382.74 945.40C385.60 840.15 389.27 801.37 392.53 735.04C395.79 668.71 399.05 620.00 402.31 547.42C405.58 474.84 408.84 375.67 412.10 299.55C415.36 223.43 418.62 81.32 421.89 90.71C425.15 100.09 428.41 288.69 431.67 355.88C434.93 423.07 438.19 456.46 441.46 493.83C444.72 531.21 447.98 555.36 451.24 580.11C454.50 604.87 457.76 623.89 461.03 642.38C464.29 660.86 467.55 676.27 470.81 691.04C474.07 705.82 477.33 718.71 480.60 731.05C483.86 743.38 487.12 754.45 490.38 765.06C493.64 775.67 496.90 785.38 500.17 794.70C503.43 804.03 506.69 812.68 509.95 821.01C513.21 829.33 516.48 837.14 519.74 844.68C523.00 852.22 526.26 859.34 529.52 866.23C532.78 873.12 536.05 879.67 539.31 886.02C542.57 892.37 545.83 898.44 549.09 904.33C552.35 910.22 555.62 915.88 558.88 921.38C562.14 926.89 565.40 932.18 568.66 937.35C571.92 942.51 575.19 947.49 578.45 952.36C581.71 957.22 584.97 961.93 588.23 966.53C591.50 971.13 594.76 975.59 598.02 979.96C601.28 984.32 604.54 988.56 607.80 992.72C611.07 996.87 614.33 1000.91 617.59 1004.88C620.85 1008.84 624.11 1012.70 627.37 1016.49C630.64 1020.28 633.90 1023.98 637.16 1027.61C640.42 1031.24 643.68 1034.79 646.94 1038.28C650.21 1041.77 653.47 1045.18 656.73 1048.53C659.99 1051.88 663.25 1055.17 666.52 1058.40C669.78 1061.63 673.04 1064.80 676.30 1067.91C679.56 1071.03 682.82 1074.09 686.09 1077.10C689.35 1080.11 692.61 1083.06 695.87 1085.98C699.13 1088.89 702.39 1091.75 705.66 1094.57C708.92 1097.39 712.18 1100.16 715.44 1102.89C718.70 1105.63 721.96 1108.32 725.23 1110.97C728.49 1113.62 731.75 1116.23 735.01 1118.81C738.27 1121.39 741.54 1123.92 744.80 1126.43C748.06 1128.93 751.32 1131.40 754.58 1133.84C757.84 1136.27 761.11 1138.68 764.37 1141.05C767.63 1143.42 770.89 1145.76 774.15 1148.07C777.41 1150.39 780.68 1152.67 783.94 1154.92C787.20 1157.18 790.46 1159.40 793.72 1161.60C796.98 1163.80 800.25 1165.98 803.51 1168.13C806.77 1170.27 810.03 1172.40 813.29 1174.50C816.55 1176.59 819.82 1178.67 823.08 1180.72C826.34 1182.77 829.60 1184.80 832.86 1186.81C836.13 1188.82 839.39 1190.80 842.65 1192.76C845.91 1194.73 849.17 1196.67 852.43 1198.59C855.70 1200.52 858.96 1202.42 862.22 1204.30C865.48 1206.19 868.74 1208.05 872.00 1209.90C875.27 1211.74 878.53 1213.57 881.79 1215.38C885.05 1217.19 888.31 1218.98 891.57 1220.76C894.84 1222.54 898.10 1224.29 901.36 1226.04C904.62 1227.78 907.88 1229.51 911.15 1231.22C914.41 1232.93 917.67 1234.62 920.93 1236.30C924.19 1237.98 927.45 1239.65 930.72 1241.30C933.98 1242.95 937.24 1244.59 940.50 1246.21C943.76 1247.83 947.02 1249.44 950.29 1251.03C953.55 1252.63 956.81 1254.21 960.07 1255.78C963.33 1257.35 966.59 1258.91 969.86 1260.45C973.12 1261.99 976.38 1263.52 979.64 1265.04C982.90 1266.56 986.17 1268.07 989.43 1269.57C992.69 1271.06 995.95 1272.55 999.21 1274.02C1002.47 1275.50 1005.74 1276.96 1009.00 1278.41C1012.26 1279.86 1015.52 1281.30 1018.78 1282.73C1022.04 1284.17 1025.31 1285.59 1028.57 1287.00C1031.83 1288.41 1035.09 1289.81 1038.35 1291.20C1041.61 1292.59 1044.88 1293.98 1048.14 1295.35C1051.40 1296.72 1054.66 1298.09 1057.92 1299.44C1061.19 1300.80 1064.45 1302.14 1067.71 1303.48C1070.97 1304.82 1074.23 1306.15 1077.49 1307.48C1080.76 1308.80 1084.02 1310.11 1087.28 1311.42C1090.54 1312.73 1093.80 1314.03 1097.06 1315.32C1100.33 1316.61 1103.59 1317.90 1106.85 1319.18C1110.11 1320.45 1113.37 1321.73 1116.63 1322.99C1119.90 1324.26 1123.16 1325.52 1126.42 1326.77C1129.68 1328.03 1132.94 1329.27 1136.20 1330.52C1139.47 1331.76 1142.73 1333.00 1145.99 1334.23C1149.25 1335.47 1152.51 1336.69 1155.78 1337.92C1159.04 1339.15 1162.30 1340.37 1165.56 1341.58C1168.82 1342.80 1172.08 1344.02 1175.35 1345.23C1178.61 1346.44 1181.87 1347.65 1185.13 1348.86C1188.39 1350.07 1191.65 1351.28 1194.92 1352.49C1198.18 1353.70 1201.44 1354.91 1204.70 1356.12C1207.96 1357.33 1211.22 1358.55 1214.49 1359.76C1217.75 1360.98 1221.01 1362.20 1224.27 1363.44C1227.53 1364.67 1230.80 1365.90 1234.06 1367.15C1237.32 1368.41 1240.58 1369.66 1243.84 1370.94C1247.10 1372.23 1250.37 1373.52 1253.63 1374.85C1256.89 1376.17 1260.15 1377.52 1263.41 1378.91C1266.67 1380.31 1269.94 1381.73 1273.20 1383.24C1276.46 1384.75 1279.72 1386.28 1282.98 1387.96C1286.24 1389.65 1289.51 1391.36 1292.77 1393.36C1296.03 1395.36 1299.29 1397.35 1302.55 1399.97C1305.82 1402.59 1309.08 1404.96 1312.34 1409.08C1315.60 1413.20 1319.26 1415.94 1322.12 1424.70C1325.39 1434.69 1331.20 1491.62 1331.91 1468.97C1335.17 1364.76 1338.43 822.24 1341.69 799.47C1344.96 776.70 1348.22 1237.97 1351.48 1332.33C1352.08 1349.68 1358.00 1357.84 1361.26 1365.65C1364.48 1373.35 1367.79 1375.54 1371.05 1379.17C1374.31 1382.79 1377.57 1385.02 1380.84 1387.40C1384.10 1389.77 1387.36 1391.61 1390.62 1393.43C1393.88 1395.26 1397.14 1396.81 1400.41 1398.34C1403.67 1399.87 1406.93 1401.25 1410.19 1402.59C1413.45 1403.94 1416.71 1405.19 1419.98 1406.42C1423.24 1407.65 1426.50 1408.81 1429.76 1409.95C1433.02 1411.10 1436.28 1412.20 1439.55 1413.28C1442.81 1414.36 1446.07 1415.41 1449.33 1416.44C1452.59 1417.47 1455.86 1418.48 1459.12 1419.47C1462.38 1420.47 1465.64 1421.44 1468.90 1422.41C1472.16 1423.37 1475.43 1424.32 1478.69 1425.26C1481.95 1426.20 1485.21 1427.12 1488.47 1428.03C1491.73 1428.95 1495.00 1429.85 1498.26 1430.75C1501.52 1431.65 1504.78 1432.53 1508.04 1433.41C1511.30 1434.29 1514.57 1435.16 1517.83 1436.02C1521.09 1436.88 1524.35 1437.74 1527.61 1438.59C1530.87 1439.44 1534.14 1440.28 1537.40 1441.12C1540.66 1441.95 1543.92 1442.78 1547.18 1443.61C1550.45 1444.43 1553.71 1445.25 1556.97 1446.06C1560.23 1446.88 1563.49 1447.69 1566.75 1448.49C1570.02 1449.29 1573.28 1450.09 1576.54 1450.88C1579.80 1451.68 1583.06 1452.47 1586.32 1453.25C1589.59 1454.04 1592.85 1454.81 1596.11 1455.59C1599.37 1456.37 1602.63 1457.14 1605.89 1457.90C1609.16 1458.67 1612.42 1459.44 1615.68 1460.19C1618.94 1460.95 1622.20 1461.71 1625.47 1462.46C1628.73 1463.21 1631.99 1463.96 1635.25 1464.71C1638.51 1465.45 1641.77 1466.19 1645.04 1466.93C1648.30 1467.67 1651.56 1468.40 1654.82 1469.13C1658.08 1469.86 1661.34 1470.59 1664.61 1471.31C1667.87 1472.04 1671.13 1472.76 1674.39 1473.47C1677.65 1474.19 1680.91 1474.91 1684.18 1475.62C1687.44 1476.33 1690.70 1477.04 1693.96 1477.74C1697.22 1478.45 1700.49 1479.15 1703.75 1479.85C1707.01 1480.55 1710.27 1481.24 1713.53 1481.94C1716.79 1482.63 1720.06 1483.32 1723.32 1484.01C1726.58 1484.70 1729.84 1485.38 1733.10 1486.06C1736.36 1486.75 1739.63 1487.43 1742.89 1488.10C1746.15 1488.78 1749.41 1489.46 1752.67 1490.13C1755.93 1490.80 1759.20 1491.47 1762.46 1492.14C1765.72 1492.80 1768.98 1493.47 1772.24 1494.13C1775.51 1494.79 1778.77 1495.45 1782.03 1496.11C1785.29 1496.76 1788.55 1497.42 1791.81 1498.07C1795.08 1498.72 1798.34 1499.37 1801.60 1500.02C1804.86 1500.67 1808.12 1501.31 1811.38 1501.95C1814.65 1502.60 1817.91 1503.24 1821.17 1503.88C1824.43 1504.52 1827.69 1505.15 1830.95 1505.79C1834.22 1506.42 1837.48 1507.05 1840.74 1507.68C1844.00 1508.31 1847.26 1508.94 1850.52 1509.56C1853.79 1510.19 1857.05 1510.81 1860.31 1511.44C1863.57 1512.06 1866.83 1512.68 1870.10 1513.29C1873.36 1513.91 1876.62 1514.53 1879.88 1515.14C1883.14 1515.75 1886.40 1516.37 1889.67 1516.98C1892.93 1517.58 1896.19 1518.19 1899.45 1518.80C1902.71 1519.40 1905.97 1520.01 1909.24 1520.61C1912.50 1521.21 1915.76 1521.81 1919.02 1522.41C1922.28 1523.01 1925.54 1523.61 1928.81 1524.20C1932.07 1524.80 1935.33 1525.39 1938.59 1525.98C1941.85 1526.57 1945.12 1527.16 1948.38 1527.75C1951.64 1528.34 1954.90 1528.93 1958.16 1529.51C1961.42 1530.10 1964.69 1530.68 1967.95 1531.26C1971.21 1531.85 1974.47 1532.43 1977.73 1533.01C1980.99 1533.58 1984.26 1534.16 1987.52 1534.74C1990.78 1535.31 1994.04 1535.89 1997.30 1536.46C2000.56 1537.03 2003.83 1537.61 2007.09 1538.18C2010.35 1538.75 2013.61 1539.32 2016.87 1539.88C2020.14 1540.45 2023.40 1541.02 2026.66 1541.58C2029.92 1542.15 2033.18 1542.71 2036.44 1543.28C2039.71 1543.84 2042.97 1544.40 2046.23 1544.96C2049.49 1545.52 2052.75 1546.08 2056.01 1546.64C2059.28 1547.20 2062.54 1547.76 2065.80 1548.32C2069.06 1548.87 2072.32 1549.43 2075.58 1549.99C2078.85 1550.54 2082.11 1551.10 2085.37 1551.65C2088.63 1552.21 2091.89 1552.76 2095.16 1553.31C2098.42 1553.87 2101.68 1554.42 2104.94 1554.97C2108.20 1555.52 2111.46 1556.08 2114.73 1556.63C2117.99 1557.18 2121.25 1557.73 2124.51 1558.29C2127.77 1558.84 2131.03 1559.39 2134.30 1559.95C2137.56 1560.50 2140.82 1561.05 2144.08 1561.61C2147.34 1562.17 2150.60 1562.72 2153.87 1563.28C2157.13 1563.84 2160.39 1564.40 2163.65 1564.96C2166.91 1565.52 2170.17 1566.08 2173.44 1566.65C2176.70 1567.22 2179.96 1567.79 2183.22 1568.36C2186.48 1568.93 2189.75 1569.51 2193.01 1570.10C2196.27 1570.68 2199.53 1571.27 2202.79 1571.87C2206.05 1572.46 2209.32 1573.07 2212.58 1573.68C2215.84 1574.30 2219.10 1574.92 2222.36 1575.57C2225.62 1576.21 2228.89 1576.87 2232.15 1577.55C2235.41 1578.23 2238.67 1578.93 2241.93 1579.67C2245.19 1580.42 2248.46 1581.17 2251.72 1582.02C2254.98 1582.86 2258.24 1583.71 2261.50 1584.72C2264.77 1585.73 2268.03 1586.73 2271.29 1588.07C2274.55 1589.42 2277.81 1590.61 2281.07 1592.78C2284.34 1594.96 2287.63 1595.55 2290.86 1601.11C2294.12 1606.73 2299.38 1640.06 2300.64 1626.51C2303.91 1591.64 2307.17 1403.61 2310.43 1391.93C2313.69 1380.26 2316.95 1526.54 2320.21 1556.44C2321.18 1565.30 2328.37 1568.85 2330.00 1571.33" stroke="#FF00FF" stroke-width="7.5" stroke-dasharray="13.5 12.7"/>
</g>
<path d="M1092.0 172.0 A358.0 81.0 0 1 1 393.0 172.0" fill="none" stroke="#000" stroke-width="4.6"/>
<path d="M1374.4 1225.4 A50.5 24.7 0 1 1 1309.4 1225.4" fill="none" stroke="#000" stroke-width="5"/>
<g font-size="104.17">
<text x="282" y="91.7" text-anchor="end">0</text>
<text x="282" y="409.9" text-anchor="end">-10</text>
<text x="282" y="731.3" text-anchor="end">-20</text>
<text x="282" y="1048.5" text-anchor="end">-30</text>
<text x="282" y="1366.5" text-anchor="end">-40</text>
<text x="370.5" y="1490.5" text-anchor="middle">0</text>
<text x="856.2" y="1490.5" text-anchor="middle">2.5</text>
<text x="1348.5" y="1490.5" text-anchor="middle">5</text>
<text x="1838.0" y="1490.5" text-anchor="middle">7.5</text>
<text x="2332.5" y="1490.5" text-anchor="middle">10</text>
<text x="979" y="1624"><tspan class="i">Frequency</tspan><tspan dx="8.5"> [GHz]</tspan></text>
<text transform="translate(105.1,698) rotate(-90)" text-anchor="middle" font-size="105.2">|<tspan class="i">S</tspan><tspan font-size="68" dy="24.4">21</tspan><tspan dy="-24.4">|, |</tspan><tspan class="i">S</tspan><tspan font-size="68" dy="24.4">11</tspan><tspan dy="-24.4">| [dB]</tspan></text>
</g>
<g font-size="78.6">
<text x="1900" y="1027.7" style="fill:#0070C0"><tspan class="i">L</tspan>=0 nH</text>
<text x="1900" y="1123.4" style="fill:#FF0000"><tspan class="i">L</tspan>=1 nH</text>
<text x="1900" y="1218.1" style="fill:#00B050"><tspan class="i">L</tspan>=10 nH</text>
<text x="1900" y="1313.4" style="fill:#FF00FF"><tspan class="i">L</tspan>=100 nH</text>
<text x="845" y="336.4"><tspan class="i">S</tspan><tspan font-size="48" dy="15">21</tspan></text>
<text x="1398" y="1297"><tspan class="i">S</tspan><tspan font-size="48" dy="16">11</tspan></text>
</g>
</svg></body></html>
